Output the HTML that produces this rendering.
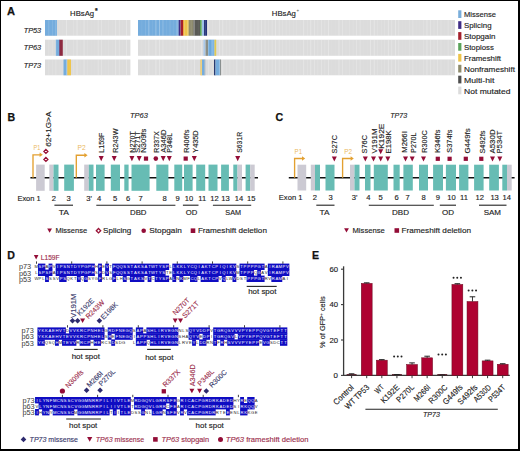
<!DOCTYPE html>
<html><head><meta charset="utf-8"><title>Figure</title>
<style>
html,body{margin:0;padding:0;background:#fff;}
body{width:520px;height:451px;overflow:hidden;position:relative;}
#fr{position:absolute;left:0;top:0;width:520px;height:451px;box-sizing:border-box;border-style:solid;border-color:#000;border-width:1px 2px 2px 1px;}
svg{position:absolute;left:0;top:0;}
svg text{font-family:"Liberation Sans", sans-serif;}
</style></head><body>
<svg width="520" height="451" viewBox="0 0 520 451">
<text stroke="#111" stroke-width="0.25" x="7.1" y="15.2" font-size="10.6" fill="#111" font-weight="bold" textLength="8" lengthAdjust="spacingAndGlyphs">A</text>
<text stroke="#222" stroke-width="0.14" x="70.1" y="15.5" font-size="7.7" fill="#222" textLength="24" lengthAdjust="spacingAndGlyphs">HBsAg</text>
<text stroke="#222" stroke-width="0.25" x="94.9" y="13.2" font-size="6.6" fill="#222" font-weight="bold">*</text>
<text stroke="#222" stroke-width="0.14" x="271.8" y="15.5" font-size="7.7" fill="#222" textLength="24.1" lengthAdjust="spacingAndGlyphs">HBsAg</text>
<text x="296.4" y="12.4" font-size="4.5" fill="#555">+</text>
<text stroke="#222" stroke-width="0.14" x="23.7" y="33" font-size="7.6" fill="#222" font-style="italic" textLength="17.4" lengthAdjust="spacingAndGlyphs">TP53</text>
<text stroke="#222" stroke-width="0.14" x="23.7" y="49.9" font-size="7.6" fill="#222" font-style="italic" textLength="17.4" lengthAdjust="spacingAndGlyphs">TP63</text>
<text stroke="#222" stroke-width="0.14" x="23.7" y="68.2" font-size="7.6" fill="#222" font-style="italic" textLength="17.4" lengthAdjust="spacingAndGlyphs">TP73</text>
<rect x="45" y="20" width="85.4" height="15.7" fill="#dcdcdc" />
<rect x="138" y="20" width="317" height="15.7" fill="#dcdcdc" />
<rect x="45" y="39.7" width="85.4" height="16.1" fill="#dcdcdc" />
<rect x="138" y="39.7" width="317" height="16.1" fill="#dcdcdc" />
<rect x="45" y="59.5" width="85.4" height="15.8" fill="#dcdcdc" />
<rect x="138" y="59.5" width="317" height="15.8" fill="#dcdcdc" />
<rect x="45" y="20" width="12" height="15.7" fill="#74acdd" />
<rect x="55.8" y="39.7" width="3.2" height="16.1" fill="#74acdd" />
<rect x="59" y="39.7" width="0.8" height="16.1" fill="#5a2a6a" />
<rect x="59.8" y="39.7" width="3" height="16.1" fill="#8e2a40" />
<rect x="63.5" y="59.5" width="3.8" height="15.8" fill="#74acdd" />
<rect x="67.3" y="59.5" width="3.7" height="15.8" fill="#eec44a" />
<rect x="138" y="20" width="40.7" height="15.7" fill="#74acdd" />
<rect x="178.7" y="20" width="1.9" height="15.7" fill="#3f2c86" />
<rect x="180.6" y="20" width="2.4" height="15.7" fill="#a3202c" />
<rect x="183" y="20" width="1.2" height="15.7" fill="#f0a030" />
<rect x="184.2" y="20" width="4.5" height="15.7" fill="#eec44a" />
<rect x="188.7" y="20" width="4.8" height="15.7" fill="#8d8a6c" />
<rect x="193.5" y="20" width="6.5" height="15.7" fill="#5a5a55" />
<rect x="200" y="20" width="2" height="15.7" fill="#5aa35a" />
<rect x="202" y="20" width="2" height="15.7" fill="#9ec0e8" />
<rect x="204" y="20" width="3" height="15.7" fill="#24347a" />
<rect x="203.5" y="39.7" width="2" height="16.1" fill="#a8c8ea" />
<rect x="205.5" y="39.7" width="2.5" height="16.1" fill="#8a8f88" />
<rect x="208" y="39.7" width="3" height="16.1" fill="#6aa8dc" />
<rect x="211" y="39.7" width="3.5" height="16.1" fill="#7cb4e4" />
<rect x="214.5" y="39.7" width="1.7" height="16.1" fill="#e0c84a" />
<rect x="200.5" y="59.5" width="1.5" height="15.8" fill="#e8c050" />
<rect x="202" y="59.5" width="2.6" height="15.8" fill="#74acdd" />
<rect x="204.6" y="59.5" width="0.8" height="15.8" fill="#a0a8b0" />
<rect x="214" y="59.5" width="1.5" height="15.8" fill="#283a70" />
<rect x="215.5" y="59.5" width="4.5" height="15.8" fill="#74acdd" />
<rect x="220" y="59.5" width="1" height="15.8" fill="#8a9090" />
<rect x="48.5" y="20" width="0.7" height="15.7" fill="#fff" fill-opacity="0.2"/>
<rect x="48.5" y="39.7" width="0.7" height="16.1" fill="#fff" fill-opacity="0.2"/>
<rect x="48.5" y="59.5" width="0.7" height="15.8" fill="#fff" fill-opacity="0.2"/>
<rect x="52.02" y="20" width="0.7" height="15.7" fill="#fff" fill-opacity="0.15"/>
<rect x="52.02" y="39.7" width="0.7" height="16.1" fill="#fff" fill-opacity="0.15"/>
<rect x="52.02" y="59.5" width="0.7" height="15.8" fill="#fff" fill-opacity="0.15"/>
<rect x="55.54" y="20" width="0.7" height="15.7" fill="#fff" fill-opacity="0.3"/>
<rect x="55.54" y="39.7" width="0.7" height="16.1" fill="#fff" fill-opacity="0.3"/>
<rect x="55.54" y="59.5" width="0.7" height="15.8" fill="#fff" fill-opacity="0.3"/>
<rect x="59.06" y="20" width="0.7" height="15.7" fill="#fff" fill-opacity="0.08"/>
<rect x="59.06" y="39.7" width="0.7" height="16.1" fill="#fff" fill-opacity="0.08"/>
<rect x="59.06" y="59.5" width="0.7" height="15.8" fill="#fff" fill-opacity="0.08"/>
<rect x="62.58" y="20" width="0.7" height="15.7" fill="#fff" fill-opacity="0.08"/>
<rect x="62.58" y="39.7" width="0.7" height="16.1" fill="#fff" fill-opacity="0.08"/>
<rect x="62.58" y="59.5" width="0.7" height="15.8" fill="#fff" fill-opacity="0.08"/>
<rect x="66.1" y="20" width="0.7" height="15.7" fill="#fff" fill-opacity="0.4"/>
<rect x="66.1" y="39.7" width="0.7" height="16.1" fill="#fff" fill-opacity="0.4"/>
<rect x="66.1" y="59.5" width="0.7" height="15.8" fill="#fff" fill-opacity="0.4"/>
<rect x="69.62" y="20" width="0.7" height="15.7" fill="#fff" fill-opacity="0.08"/>
<rect x="69.62" y="39.7" width="0.7" height="16.1" fill="#fff" fill-opacity="0.08"/>
<rect x="69.62" y="59.5" width="0.7" height="15.8" fill="#fff" fill-opacity="0.08"/>
<rect x="73.14" y="20" width="0.7" height="15.7" fill="#fff" fill-opacity="0.2"/>
<rect x="73.14" y="39.7" width="0.7" height="16.1" fill="#fff" fill-opacity="0.2"/>
<rect x="73.14" y="59.5" width="0.7" height="15.8" fill="#fff" fill-opacity="0.2"/>
<rect x="76.66" y="20" width="0.7" height="15.7" fill="#fff" fill-opacity="0.4"/>
<rect x="76.66" y="39.7" width="0.7" height="16.1" fill="#fff" fill-opacity="0.4"/>
<rect x="76.66" y="59.5" width="0.7" height="15.8" fill="#fff" fill-opacity="0.4"/>
<rect x="80.18" y="20" width="0.7" height="15.7" fill="#fff" fill-opacity="0.08"/>
<rect x="80.18" y="39.7" width="0.7" height="16.1" fill="#fff" fill-opacity="0.08"/>
<rect x="80.18" y="59.5" width="0.7" height="15.8" fill="#fff" fill-opacity="0.08"/>
<rect x="83.7" y="20" width="0.7" height="15.7" fill="#fff" fill-opacity="0.4"/>
<rect x="83.7" y="39.7" width="0.7" height="16.1" fill="#fff" fill-opacity="0.4"/>
<rect x="83.7" y="59.5" width="0.7" height="15.8" fill="#fff" fill-opacity="0.4"/>
<rect x="87.22" y="20" width="0.7" height="15.7" fill="#fff" fill-opacity="0.15"/>
<rect x="87.22" y="39.7" width="0.7" height="16.1" fill="#fff" fill-opacity="0.15"/>
<rect x="87.22" y="59.5" width="0.7" height="15.8" fill="#fff" fill-opacity="0.15"/>
<rect x="90.74" y="20" width="0.7" height="15.7" fill="#fff" fill-opacity="0.08"/>
<rect x="90.74" y="39.7" width="0.7" height="16.1" fill="#fff" fill-opacity="0.08"/>
<rect x="90.74" y="59.5" width="0.7" height="15.8" fill="#fff" fill-opacity="0.08"/>
<rect x="94.26" y="20" width="0.7" height="15.7" fill="#fff" fill-opacity="0.08"/>
<rect x="94.26" y="39.7" width="0.7" height="16.1" fill="#fff" fill-opacity="0.08"/>
<rect x="94.26" y="59.5" width="0.7" height="15.8" fill="#fff" fill-opacity="0.08"/>
<rect x="97.78" y="20" width="0.7" height="15.7" fill="#fff" fill-opacity="0.3"/>
<rect x="97.78" y="39.7" width="0.7" height="16.1" fill="#fff" fill-opacity="0.3"/>
<rect x="97.78" y="59.5" width="0.7" height="15.8" fill="#fff" fill-opacity="0.3"/>
<rect x="101.3" y="20" width="0.7" height="15.7" fill="#fff" fill-opacity="0.3"/>
<rect x="101.3" y="39.7" width="0.7" height="16.1" fill="#fff" fill-opacity="0.3"/>
<rect x="101.3" y="59.5" width="0.7" height="15.8" fill="#fff" fill-opacity="0.3"/>
<rect x="104.82" y="20" width="0.7" height="15.7" fill="#fff" fill-opacity="0.08"/>
<rect x="104.82" y="39.7" width="0.7" height="16.1" fill="#fff" fill-opacity="0.08"/>
<rect x="104.82" y="59.5" width="0.7" height="15.8" fill="#fff" fill-opacity="0.08"/>
<rect x="108.34" y="20" width="0.7" height="15.7" fill="#fff" fill-opacity="0.15"/>
<rect x="108.34" y="39.7" width="0.7" height="16.1" fill="#fff" fill-opacity="0.15"/>
<rect x="108.34" y="59.5" width="0.7" height="15.8" fill="#fff" fill-opacity="0.15"/>
<rect x="111.86" y="20" width="0.7" height="15.7" fill="#fff" fill-opacity="0.08"/>
<rect x="111.86" y="39.7" width="0.7" height="16.1" fill="#fff" fill-opacity="0.08"/>
<rect x="111.86" y="59.5" width="0.7" height="15.8" fill="#fff" fill-opacity="0.08"/>
<rect x="115.38" y="20" width="0.7" height="15.7" fill="#fff" fill-opacity="0.4"/>
<rect x="115.38" y="39.7" width="0.7" height="16.1" fill="#fff" fill-opacity="0.4"/>
<rect x="115.38" y="59.5" width="0.7" height="15.8" fill="#fff" fill-opacity="0.4"/>
<rect x="118.9" y="20" width="0.7" height="15.7" fill="#fff" fill-opacity="0.3"/>
<rect x="118.9" y="39.7" width="0.7" height="16.1" fill="#fff" fill-opacity="0.3"/>
<rect x="118.9" y="59.5" width="0.7" height="15.8" fill="#fff" fill-opacity="0.3"/>
<rect x="122.42" y="20" width="0.7" height="15.7" fill="#fff" fill-opacity="0.08"/>
<rect x="122.42" y="39.7" width="0.7" height="16.1" fill="#fff" fill-opacity="0.08"/>
<rect x="122.42" y="59.5" width="0.7" height="15.8" fill="#fff" fill-opacity="0.08"/>
<rect x="125.94" y="20" width="0.7" height="15.7" fill="#fff" fill-opacity="0.4"/>
<rect x="125.94" y="39.7" width="0.7" height="16.1" fill="#fff" fill-opacity="0.4"/>
<rect x="125.94" y="59.5" width="0.7" height="15.8" fill="#fff" fill-opacity="0.4"/>
<rect x="141.5" y="20" width="0.7" height="15.7" fill="#fff" fill-opacity="0.08"/>
<rect x="141.5" y="39.7" width="0.7" height="16.1" fill="#fff" fill-opacity="0.08"/>
<rect x="141.5" y="59.5" width="0.7" height="15.8" fill="#fff" fill-opacity="0.08"/>
<rect x="145.02" y="20" width="0.7" height="15.7" fill="#fff" fill-opacity="0.15"/>
<rect x="145.02" y="39.7" width="0.7" height="16.1" fill="#fff" fill-opacity="0.15"/>
<rect x="145.02" y="59.5" width="0.7" height="15.8" fill="#fff" fill-opacity="0.15"/>
<rect x="148.54" y="20" width="0.7" height="15.7" fill="#fff" fill-opacity="0.4"/>
<rect x="148.54" y="39.7" width="0.7" height="16.1" fill="#fff" fill-opacity="0.4"/>
<rect x="148.54" y="59.5" width="0.7" height="15.8" fill="#fff" fill-opacity="0.4"/>
<rect x="152.06" y="20" width="0.7" height="15.7" fill="#fff" fill-opacity="0.08"/>
<rect x="152.06" y="39.7" width="0.7" height="16.1" fill="#fff" fill-opacity="0.08"/>
<rect x="152.06" y="59.5" width="0.7" height="15.8" fill="#fff" fill-opacity="0.08"/>
<rect x="155.58" y="20" width="0.7" height="15.7" fill="#fff" fill-opacity="0.4"/>
<rect x="155.58" y="39.7" width="0.7" height="16.1" fill="#fff" fill-opacity="0.4"/>
<rect x="155.58" y="59.5" width="0.7" height="15.8" fill="#fff" fill-opacity="0.4"/>
<rect x="159.1" y="20" width="0.7" height="15.7" fill="#fff" fill-opacity="0.4"/>
<rect x="159.1" y="39.7" width="0.7" height="16.1" fill="#fff" fill-opacity="0.4"/>
<rect x="159.1" y="59.5" width="0.7" height="15.8" fill="#fff" fill-opacity="0.4"/>
<rect x="162.62" y="20" width="0.7" height="15.7" fill="#fff" fill-opacity="0.3"/>
<rect x="162.62" y="39.7" width="0.7" height="16.1" fill="#fff" fill-opacity="0.3"/>
<rect x="162.62" y="59.5" width="0.7" height="15.8" fill="#fff" fill-opacity="0.3"/>
<rect x="166.14" y="20" width="0.7" height="15.7" fill="#fff" fill-opacity="0.08"/>
<rect x="166.14" y="39.7" width="0.7" height="16.1" fill="#fff" fill-opacity="0.08"/>
<rect x="166.14" y="59.5" width="0.7" height="15.8" fill="#fff" fill-opacity="0.08"/>
<rect x="169.66" y="20" width="0.7" height="15.7" fill="#fff" fill-opacity="0.15"/>
<rect x="169.66" y="39.7" width="0.7" height="16.1" fill="#fff" fill-opacity="0.15"/>
<rect x="169.66" y="59.5" width="0.7" height="15.8" fill="#fff" fill-opacity="0.15"/>
<rect x="173.18" y="20" width="0.7" height="15.7" fill="#fff" fill-opacity="0.08"/>
<rect x="173.18" y="39.7" width="0.7" height="16.1" fill="#fff" fill-opacity="0.08"/>
<rect x="173.18" y="59.5" width="0.7" height="15.8" fill="#fff" fill-opacity="0.08"/>
<rect x="176.7" y="20" width="0.7" height="15.7" fill="#fff" fill-opacity="0.4"/>
<rect x="176.7" y="39.7" width="0.7" height="16.1" fill="#fff" fill-opacity="0.4"/>
<rect x="176.7" y="59.5" width="0.7" height="15.8" fill="#fff" fill-opacity="0.4"/>
<rect x="180.22" y="20" width="0.7" height="15.7" fill="#fff" fill-opacity="0.15"/>
<rect x="180.22" y="39.7" width="0.7" height="16.1" fill="#fff" fill-opacity="0.15"/>
<rect x="180.22" y="59.5" width="0.7" height="15.8" fill="#fff" fill-opacity="0.15"/>
<rect x="183.74" y="20" width="0.7" height="15.7" fill="#fff" fill-opacity="0.2"/>
<rect x="183.74" y="39.7" width="0.7" height="16.1" fill="#fff" fill-opacity="0.2"/>
<rect x="183.74" y="59.5" width="0.7" height="15.8" fill="#fff" fill-opacity="0.2"/>
<rect x="187.26" y="20" width="0.7" height="15.7" fill="#fff" fill-opacity="0.3"/>
<rect x="187.26" y="39.7" width="0.7" height="16.1" fill="#fff" fill-opacity="0.3"/>
<rect x="187.26" y="59.5" width="0.7" height="15.8" fill="#fff" fill-opacity="0.3"/>
<rect x="190.78" y="20" width="0.7" height="15.7" fill="#fff" fill-opacity="0.15"/>
<rect x="190.78" y="39.7" width="0.7" height="16.1" fill="#fff" fill-opacity="0.15"/>
<rect x="190.78" y="59.5" width="0.7" height="15.8" fill="#fff" fill-opacity="0.15"/>
<rect x="194.3" y="20" width="0.7" height="15.7" fill="#fff" fill-opacity="0.4"/>
<rect x="194.3" y="39.7" width="0.7" height="16.1" fill="#fff" fill-opacity="0.4"/>
<rect x="194.3" y="59.5" width="0.7" height="15.8" fill="#fff" fill-opacity="0.4"/>
<rect x="197.82" y="20" width="0.7" height="15.7" fill="#fff" fill-opacity="0.08"/>
<rect x="197.82" y="39.7" width="0.7" height="16.1" fill="#fff" fill-opacity="0.08"/>
<rect x="197.82" y="59.5" width="0.7" height="15.8" fill="#fff" fill-opacity="0.08"/>
<rect x="201.34" y="20" width="0.7" height="15.7" fill="#fff" fill-opacity="0.4"/>
<rect x="201.34" y="39.7" width="0.7" height="16.1" fill="#fff" fill-opacity="0.4"/>
<rect x="201.34" y="59.5" width="0.7" height="15.8" fill="#fff" fill-opacity="0.4"/>
<rect x="204.86" y="20" width="0.7" height="15.7" fill="#fff" fill-opacity="0.2"/>
<rect x="204.86" y="39.7" width="0.7" height="16.1" fill="#fff" fill-opacity="0.2"/>
<rect x="204.86" y="59.5" width="0.7" height="15.8" fill="#fff" fill-opacity="0.2"/>
<rect x="208.38" y="20" width="0.7" height="15.7" fill="#fff" fill-opacity="0.4"/>
<rect x="208.38" y="39.7" width="0.7" height="16.1" fill="#fff" fill-opacity="0.4"/>
<rect x="208.38" y="59.5" width="0.7" height="15.8" fill="#fff" fill-opacity="0.4"/>
<rect x="211.9" y="20" width="0.7" height="15.7" fill="#fff" fill-opacity="0.15"/>
<rect x="211.9" y="39.7" width="0.7" height="16.1" fill="#fff" fill-opacity="0.15"/>
<rect x="211.9" y="59.5" width="0.7" height="15.8" fill="#fff" fill-opacity="0.15"/>
<rect x="215.42" y="20" width="0.7" height="15.7" fill="#fff" fill-opacity="0.08"/>
<rect x="215.42" y="39.7" width="0.7" height="16.1" fill="#fff" fill-opacity="0.08"/>
<rect x="215.42" y="59.5" width="0.7" height="15.8" fill="#fff" fill-opacity="0.08"/>
<rect x="218.94" y="20" width="0.7" height="15.7" fill="#fff" fill-opacity="0.4"/>
<rect x="218.94" y="39.7" width="0.7" height="16.1" fill="#fff" fill-opacity="0.4"/>
<rect x="218.94" y="59.5" width="0.7" height="15.8" fill="#fff" fill-opacity="0.4"/>
<rect x="222.46" y="20" width="0.7" height="15.7" fill="#fff" fill-opacity="0.4"/>
<rect x="222.46" y="39.7" width="0.7" height="16.1" fill="#fff" fill-opacity="0.4"/>
<rect x="222.46" y="59.5" width="0.7" height="15.8" fill="#fff" fill-opacity="0.4"/>
<rect x="225.98" y="20" width="0.7" height="15.7" fill="#fff" fill-opacity="0.15"/>
<rect x="225.98" y="39.7" width="0.7" height="16.1" fill="#fff" fill-opacity="0.15"/>
<rect x="225.98" y="59.5" width="0.7" height="15.8" fill="#fff" fill-opacity="0.15"/>
<rect x="229.5" y="20" width="0.7" height="15.7" fill="#fff" fill-opacity="0.2"/>
<rect x="229.5" y="39.7" width="0.7" height="16.1" fill="#fff" fill-opacity="0.2"/>
<rect x="229.5" y="59.5" width="0.7" height="15.8" fill="#fff" fill-opacity="0.2"/>
<rect x="233.02" y="20" width="0.7" height="15.7" fill="#fff" fill-opacity="0.08"/>
<rect x="233.02" y="39.7" width="0.7" height="16.1" fill="#fff" fill-opacity="0.08"/>
<rect x="233.02" y="59.5" width="0.7" height="15.8" fill="#fff" fill-opacity="0.08"/>
<rect x="236.54" y="20" width="0.7" height="15.7" fill="#fff" fill-opacity="0.4"/>
<rect x="236.54" y="39.7" width="0.7" height="16.1" fill="#fff" fill-opacity="0.4"/>
<rect x="236.54" y="59.5" width="0.7" height="15.8" fill="#fff" fill-opacity="0.4"/>
<rect x="240.06" y="20" width="0.7" height="15.7" fill="#fff" fill-opacity="0.08"/>
<rect x="240.06" y="39.7" width="0.7" height="16.1" fill="#fff" fill-opacity="0.08"/>
<rect x="240.06" y="59.5" width="0.7" height="15.8" fill="#fff" fill-opacity="0.08"/>
<rect x="243.58" y="20" width="0.7" height="15.7" fill="#fff" fill-opacity="0.4"/>
<rect x="243.58" y="39.7" width="0.7" height="16.1" fill="#fff" fill-opacity="0.4"/>
<rect x="243.58" y="59.5" width="0.7" height="15.8" fill="#fff" fill-opacity="0.4"/>
<rect x="247.1" y="20" width="0.7" height="15.7" fill="#fff" fill-opacity="0.08"/>
<rect x="247.1" y="39.7" width="0.7" height="16.1" fill="#fff" fill-opacity="0.08"/>
<rect x="247.1" y="59.5" width="0.7" height="15.8" fill="#fff" fill-opacity="0.08"/>
<rect x="250.62" y="20" width="0.7" height="15.7" fill="#fff" fill-opacity="0.4"/>
<rect x="250.62" y="39.7" width="0.7" height="16.1" fill="#fff" fill-opacity="0.4"/>
<rect x="250.62" y="59.5" width="0.7" height="15.8" fill="#fff" fill-opacity="0.4"/>
<rect x="254.14" y="20" width="0.7" height="15.7" fill="#fff" fill-opacity="0.15"/>
<rect x="254.14" y="39.7" width="0.7" height="16.1" fill="#fff" fill-opacity="0.15"/>
<rect x="254.14" y="59.5" width="0.7" height="15.8" fill="#fff" fill-opacity="0.15"/>
<rect x="257.66" y="20" width="0.7" height="15.7" fill="#fff" fill-opacity="0.3"/>
<rect x="257.66" y="39.7" width="0.7" height="16.1" fill="#fff" fill-opacity="0.3"/>
<rect x="257.66" y="59.5" width="0.7" height="15.8" fill="#fff" fill-opacity="0.3"/>
<rect x="261.18" y="20" width="0.7" height="15.7" fill="#fff" fill-opacity="0.4"/>
<rect x="261.18" y="39.7" width="0.7" height="16.1" fill="#fff" fill-opacity="0.4"/>
<rect x="261.18" y="59.5" width="0.7" height="15.8" fill="#fff" fill-opacity="0.4"/>
<rect x="264.7" y="20" width="0.7" height="15.7" fill="#fff" fill-opacity="0.3"/>
<rect x="264.7" y="39.7" width="0.7" height="16.1" fill="#fff" fill-opacity="0.3"/>
<rect x="264.7" y="59.5" width="0.7" height="15.8" fill="#fff" fill-opacity="0.3"/>
<rect x="268.22" y="20" width="0.7" height="15.7" fill="#fff" fill-opacity="0.2"/>
<rect x="268.22" y="39.7" width="0.7" height="16.1" fill="#fff" fill-opacity="0.2"/>
<rect x="268.22" y="59.5" width="0.7" height="15.8" fill="#fff" fill-opacity="0.2"/>
<rect x="271.74" y="20" width="0.7" height="15.7" fill="#fff" fill-opacity="0.3"/>
<rect x="271.74" y="39.7" width="0.7" height="16.1" fill="#fff" fill-opacity="0.3"/>
<rect x="271.74" y="59.5" width="0.7" height="15.8" fill="#fff" fill-opacity="0.3"/>
<rect x="275.26" y="20" width="0.7" height="15.7" fill="#fff" fill-opacity="0.4"/>
<rect x="275.26" y="39.7" width="0.7" height="16.1" fill="#fff" fill-opacity="0.4"/>
<rect x="275.26" y="59.5" width="0.7" height="15.8" fill="#fff" fill-opacity="0.4"/>
<rect x="278.78" y="20" width="0.7" height="15.7" fill="#fff" fill-opacity="0.3"/>
<rect x="278.78" y="39.7" width="0.7" height="16.1" fill="#fff" fill-opacity="0.3"/>
<rect x="278.78" y="59.5" width="0.7" height="15.8" fill="#fff" fill-opacity="0.3"/>
<rect x="282.3" y="20" width="0.7" height="15.7" fill="#fff" fill-opacity="0.2"/>
<rect x="282.3" y="39.7" width="0.7" height="16.1" fill="#fff" fill-opacity="0.2"/>
<rect x="282.3" y="59.5" width="0.7" height="15.8" fill="#fff" fill-opacity="0.2"/>
<rect x="285.82" y="20" width="0.7" height="15.7" fill="#fff" fill-opacity="0.2"/>
<rect x="285.82" y="39.7" width="0.7" height="16.1" fill="#fff" fill-opacity="0.2"/>
<rect x="285.82" y="59.5" width="0.7" height="15.8" fill="#fff" fill-opacity="0.2"/>
<rect x="289.34" y="20" width="0.7" height="15.7" fill="#fff" fill-opacity="0.15"/>
<rect x="289.34" y="39.7" width="0.7" height="16.1" fill="#fff" fill-opacity="0.15"/>
<rect x="289.34" y="59.5" width="0.7" height="15.8" fill="#fff" fill-opacity="0.15"/>
<rect x="292.86" y="20" width="0.7" height="15.7" fill="#fff" fill-opacity="0.15"/>
<rect x="292.86" y="39.7" width="0.7" height="16.1" fill="#fff" fill-opacity="0.15"/>
<rect x="292.86" y="59.5" width="0.7" height="15.8" fill="#fff" fill-opacity="0.15"/>
<rect x="296.38" y="20" width="0.7" height="15.7" fill="#fff" fill-opacity="0.15"/>
<rect x="296.38" y="39.7" width="0.7" height="16.1" fill="#fff" fill-opacity="0.15"/>
<rect x="296.38" y="59.5" width="0.7" height="15.8" fill="#fff" fill-opacity="0.15"/>
<rect x="299.9" y="20" width="0.7" height="15.7" fill="#fff" fill-opacity="0.08"/>
<rect x="299.9" y="39.7" width="0.7" height="16.1" fill="#fff" fill-opacity="0.08"/>
<rect x="299.9" y="59.5" width="0.7" height="15.8" fill="#fff" fill-opacity="0.08"/>
<rect x="303.42" y="20" width="0.7" height="15.7" fill="#fff" fill-opacity="0.4"/>
<rect x="303.42" y="39.7" width="0.7" height="16.1" fill="#fff" fill-opacity="0.4"/>
<rect x="303.42" y="59.5" width="0.7" height="15.8" fill="#fff" fill-opacity="0.4"/>
<rect x="306.94" y="20" width="0.7" height="15.7" fill="#fff" fill-opacity="0.2"/>
<rect x="306.94" y="39.7" width="0.7" height="16.1" fill="#fff" fill-opacity="0.2"/>
<rect x="306.94" y="59.5" width="0.7" height="15.8" fill="#fff" fill-opacity="0.2"/>
<rect x="310.46" y="20" width="0.7" height="15.7" fill="#fff" fill-opacity="0.4"/>
<rect x="310.46" y="39.7" width="0.7" height="16.1" fill="#fff" fill-opacity="0.4"/>
<rect x="310.46" y="59.5" width="0.7" height="15.8" fill="#fff" fill-opacity="0.4"/>
<rect x="313.98" y="20" width="0.7" height="15.7" fill="#fff" fill-opacity="0.3"/>
<rect x="313.98" y="39.7" width="0.7" height="16.1" fill="#fff" fill-opacity="0.3"/>
<rect x="313.98" y="59.5" width="0.7" height="15.8" fill="#fff" fill-opacity="0.3"/>
<rect x="317.5" y="20" width="0.7" height="15.7" fill="#fff" fill-opacity="0.2"/>
<rect x="317.5" y="39.7" width="0.7" height="16.1" fill="#fff" fill-opacity="0.2"/>
<rect x="317.5" y="59.5" width="0.7" height="15.8" fill="#fff" fill-opacity="0.2"/>
<rect x="321.02" y="20" width="0.7" height="15.7" fill="#fff" fill-opacity="0.3"/>
<rect x="321.02" y="39.7" width="0.7" height="16.1" fill="#fff" fill-opacity="0.3"/>
<rect x="321.02" y="59.5" width="0.7" height="15.8" fill="#fff" fill-opacity="0.3"/>
<rect x="324.54" y="20" width="0.7" height="15.7" fill="#fff" fill-opacity="0.2"/>
<rect x="324.54" y="39.7" width="0.7" height="16.1" fill="#fff" fill-opacity="0.2"/>
<rect x="324.54" y="59.5" width="0.7" height="15.8" fill="#fff" fill-opacity="0.2"/>
<rect x="328.06" y="20" width="0.7" height="15.7" fill="#fff" fill-opacity="0.4"/>
<rect x="328.06" y="39.7" width="0.7" height="16.1" fill="#fff" fill-opacity="0.4"/>
<rect x="328.06" y="59.5" width="0.7" height="15.8" fill="#fff" fill-opacity="0.4"/>
<rect x="331.58" y="20" width="0.7" height="15.7" fill="#fff" fill-opacity="0.08"/>
<rect x="331.58" y="39.7" width="0.7" height="16.1" fill="#fff" fill-opacity="0.08"/>
<rect x="331.58" y="59.5" width="0.7" height="15.8" fill="#fff" fill-opacity="0.08"/>
<rect x="335.1" y="20" width="0.7" height="15.7" fill="#fff" fill-opacity="0.08"/>
<rect x="335.1" y="39.7" width="0.7" height="16.1" fill="#fff" fill-opacity="0.08"/>
<rect x="335.1" y="59.5" width="0.7" height="15.8" fill="#fff" fill-opacity="0.08"/>
<rect x="338.62" y="20" width="0.7" height="15.7" fill="#fff" fill-opacity="0.4"/>
<rect x="338.62" y="39.7" width="0.7" height="16.1" fill="#fff" fill-opacity="0.4"/>
<rect x="338.62" y="59.5" width="0.7" height="15.8" fill="#fff" fill-opacity="0.4"/>
<rect x="342.14" y="20" width="0.7" height="15.7" fill="#fff" fill-opacity="0.3"/>
<rect x="342.14" y="39.7" width="0.7" height="16.1" fill="#fff" fill-opacity="0.3"/>
<rect x="342.14" y="59.5" width="0.7" height="15.8" fill="#fff" fill-opacity="0.3"/>
<rect x="345.66" y="20" width="0.7" height="15.7" fill="#fff" fill-opacity="0.15"/>
<rect x="345.66" y="39.7" width="0.7" height="16.1" fill="#fff" fill-opacity="0.15"/>
<rect x="345.66" y="59.5" width="0.7" height="15.8" fill="#fff" fill-opacity="0.15"/>
<rect x="349.18" y="20" width="0.7" height="15.7" fill="#fff" fill-opacity="0.2"/>
<rect x="349.18" y="39.7" width="0.7" height="16.1" fill="#fff" fill-opacity="0.2"/>
<rect x="349.18" y="59.5" width="0.7" height="15.8" fill="#fff" fill-opacity="0.2"/>
<rect x="352.7" y="20" width="0.7" height="15.7" fill="#fff" fill-opacity="0.15"/>
<rect x="352.7" y="39.7" width="0.7" height="16.1" fill="#fff" fill-opacity="0.15"/>
<rect x="352.7" y="59.5" width="0.7" height="15.8" fill="#fff" fill-opacity="0.15"/>
<rect x="356.22" y="20" width="0.7" height="15.7" fill="#fff" fill-opacity="0.3"/>
<rect x="356.22" y="39.7" width="0.7" height="16.1" fill="#fff" fill-opacity="0.3"/>
<rect x="356.22" y="59.5" width="0.7" height="15.8" fill="#fff" fill-opacity="0.3"/>
<rect x="359.74" y="20" width="0.7" height="15.7" fill="#fff" fill-opacity="0.3"/>
<rect x="359.74" y="39.7" width="0.7" height="16.1" fill="#fff" fill-opacity="0.3"/>
<rect x="359.74" y="59.5" width="0.7" height="15.8" fill="#fff" fill-opacity="0.3"/>
<rect x="363.26" y="20" width="0.7" height="15.7" fill="#fff" fill-opacity="0.08"/>
<rect x="363.26" y="39.7" width="0.7" height="16.1" fill="#fff" fill-opacity="0.08"/>
<rect x="363.26" y="59.5" width="0.7" height="15.8" fill="#fff" fill-opacity="0.08"/>
<rect x="366.78" y="20" width="0.7" height="15.7" fill="#fff" fill-opacity="0.08"/>
<rect x="366.78" y="39.7" width="0.7" height="16.1" fill="#fff" fill-opacity="0.08"/>
<rect x="366.78" y="59.5" width="0.7" height="15.8" fill="#fff" fill-opacity="0.08"/>
<rect x="370.3" y="20" width="0.7" height="15.7" fill="#fff" fill-opacity="0.4"/>
<rect x="370.3" y="39.7" width="0.7" height="16.1" fill="#fff" fill-opacity="0.4"/>
<rect x="370.3" y="59.5" width="0.7" height="15.8" fill="#fff" fill-opacity="0.4"/>
<rect x="373.82" y="20" width="0.7" height="15.7" fill="#fff" fill-opacity="0.4"/>
<rect x="373.82" y="39.7" width="0.7" height="16.1" fill="#fff" fill-opacity="0.4"/>
<rect x="373.82" y="59.5" width="0.7" height="15.8" fill="#fff" fill-opacity="0.4"/>
<rect x="377.34" y="20" width="0.7" height="15.7" fill="#fff" fill-opacity="0.2"/>
<rect x="377.34" y="39.7" width="0.7" height="16.1" fill="#fff" fill-opacity="0.2"/>
<rect x="377.34" y="59.5" width="0.7" height="15.8" fill="#fff" fill-opacity="0.2"/>
<rect x="380.86" y="20" width="0.7" height="15.7" fill="#fff" fill-opacity="0.2"/>
<rect x="380.86" y="39.7" width="0.7" height="16.1" fill="#fff" fill-opacity="0.2"/>
<rect x="380.86" y="59.5" width="0.7" height="15.8" fill="#fff" fill-opacity="0.2"/>
<rect x="384.38" y="20" width="0.7" height="15.7" fill="#fff" fill-opacity="0.2"/>
<rect x="384.38" y="39.7" width="0.7" height="16.1" fill="#fff" fill-opacity="0.2"/>
<rect x="384.38" y="59.5" width="0.7" height="15.8" fill="#fff" fill-opacity="0.2"/>
<rect x="387.9" y="20" width="0.7" height="15.7" fill="#fff" fill-opacity="0.4"/>
<rect x="387.9" y="39.7" width="0.7" height="16.1" fill="#fff" fill-opacity="0.4"/>
<rect x="387.9" y="59.5" width="0.7" height="15.8" fill="#fff" fill-opacity="0.4"/>
<rect x="391.42" y="20" width="0.7" height="15.7" fill="#fff" fill-opacity="0.3"/>
<rect x="391.42" y="39.7" width="0.7" height="16.1" fill="#fff" fill-opacity="0.3"/>
<rect x="391.42" y="59.5" width="0.7" height="15.8" fill="#fff" fill-opacity="0.3"/>
<rect x="394.94" y="20" width="0.7" height="15.7" fill="#fff" fill-opacity="0.4"/>
<rect x="394.94" y="39.7" width="0.7" height="16.1" fill="#fff" fill-opacity="0.4"/>
<rect x="394.94" y="59.5" width="0.7" height="15.8" fill="#fff" fill-opacity="0.4"/>
<rect x="398.46" y="20" width="0.7" height="15.7" fill="#fff" fill-opacity="0.3"/>
<rect x="398.46" y="39.7" width="0.7" height="16.1" fill="#fff" fill-opacity="0.3"/>
<rect x="398.46" y="59.5" width="0.7" height="15.8" fill="#fff" fill-opacity="0.3"/>
<rect x="401.98" y="20" width="0.7" height="15.7" fill="#fff" fill-opacity="0.08"/>
<rect x="401.98" y="39.7" width="0.7" height="16.1" fill="#fff" fill-opacity="0.08"/>
<rect x="401.98" y="59.5" width="0.7" height="15.8" fill="#fff" fill-opacity="0.08"/>
<rect x="405.5" y="20" width="0.7" height="15.7" fill="#fff" fill-opacity="0.08"/>
<rect x="405.5" y="39.7" width="0.7" height="16.1" fill="#fff" fill-opacity="0.08"/>
<rect x="405.5" y="59.5" width="0.7" height="15.8" fill="#fff" fill-opacity="0.08"/>
<rect x="409.02" y="20" width="0.7" height="15.7" fill="#fff" fill-opacity="0.2"/>
<rect x="409.02" y="39.7" width="0.7" height="16.1" fill="#fff" fill-opacity="0.2"/>
<rect x="409.02" y="59.5" width="0.7" height="15.8" fill="#fff" fill-opacity="0.2"/>
<rect x="412.54" y="20" width="0.7" height="15.7" fill="#fff" fill-opacity="0.3"/>
<rect x="412.54" y="39.7" width="0.7" height="16.1" fill="#fff" fill-opacity="0.3"/>
<rect x="412.54" y="59.5" width="0.7" height="15.8" fill="#fff" fill-opacity="0.3"/>
<rect x="416.06" y="20" width="0.7" height="15.7" fill="#fff" fill-opacity="0.08"/>
<rect x="416.06" y="39.7" width="0.7" height="16.1" fill="#fff" fill-opacity="0.08"/>
<rect x="416.06" y="59.5" width="0.7" height="15.8" fill="#fff" fill-opacity="0.08"/>
<rect x="419.58" y="20" width="0.7" height="15.7" fill="#fff" fill-opacity="0.08"/>
<rect x="419.58" y="39.7" width="0.7" height="16.1" fill="#fff" fill-opacity="0.08"/>
<rect x="419.58" y="59.5" width="0.7" height="15.8" fill="#fff" fill-opacity="0.08"/>
<rect x="423.1" y="20" width="0.7" height="15.7" fill="#fff" fill-opacity="0.2"/>
<rect x="423.1" y="39.7" width="0.7" height="16.1" fill="#fff" fill-opacity="0.2"/>
<rect x="423.1" y="59.5" width="0.7" height="15.8" fill="#fff" fill-opacity="0.2"/>
<rect x="426.62" y="20" width="0.7" height="15.7" fill="#fff" fill-opacity="0.4"/>
<rect x="426.62" y="39.7" width="0.7" height="16.1" fill="#fff" fill-opacity="0.4"/>
<rect x="426.62" y="59.5" width="0.7" height="15.8" fill="#fff" fill-opacity="0.4"/>
<rect x="430.14" y="20" width="0.7" height="15.7" fill="#fff" fill-opacity="0.3"/>
<rect x="430.14" y="39.7" width="0.7" height="16.1" fill="#fff" fill-opacity="0.3"/>
<rect x="430.14" y="59.5" width="0.7" height="15.8" fill="#fff" fill-opacity="0.3"/>
<rect x="433.66" y="20" width="0.7" height="15.7" fill="#fff" fill-opacity="0.2"/>
<rect x="433.66" y="39.7" width="0.7" height="16.1" fill="#fff" fill-opacity="0.2"/>
<rect x="433.66" y="59.5" width="0.7" height="15.8" fill="#fff" fill-opacity="0.2"/>
<rect x="437.18" y="20" width="0.7" height="15.7" fill="#fff" fill-opacity="0.3"/>
<rect x="437.18" y="39.7" width="0.7" height="16.1" fill="#fff" fill-opacity="0.3"/>
<rect x="437.18" y="59.5" width="0.7" height="15.8" fill="#fff" fill-opacity="0.3"/>
<rect x="440.7" y="20" width="0.7" height="15.7" fill="#fff" fill-opacity="0.2"/>
<rect x="440.7" y="39.7" width="0.7" height="16.1" fill="#fff" fill-opacity="0.2"/>
<rect x="440.7" y="59.5" width="0.7" height="15.8" fill="#fff" fill-opacity="0.2"/>
<rect x="444.22" y="20" width="0.7" height="15.7" fill="#fff" fill-opacity="0.08"/>
<rect x="444.22" y="39.7" width="0.7" height="16.1" fill="#fff" fill-opacity="0.08"/>
<rect x="444.22" y="59.5" width="0.7" height="15.8" fill="#fff" fill-opacity="0.08"/>
<rect x="447.74" y="20" width="0.7" height="15.7" fill="#fff" fill-opacity="0.3"/>
<rect x="447.74" y="39.7" width="0.7" height="16.1" fill="#fff" fill-opacity="0.3"/>
<rect x="447.74" y="59.5" width="0.7" height="15.8" fill="#fff" fill-opacity="0.3"/>
<rect x="451.26" y="20" width="0.7" height="15.7" fill="#fff" fill-opacity="0.2"/>
<rect x="451.26" y="39.7" width="0.7" height="16.1" fill="#fff" fill-opacity="0.2"/>
<rect x="451.26" y="59.5" width="0.7" height="15.8" fill="#fff" fill-opacity="0.2"/>
<rect x="458.2" y="10.3" width="3.2" height="7.7" fill="#7aaedb" />
<text stroke="#222" stroke-width="0.14" x="464" y="16.6" font-size="7.8" fill="#222" textLength="31.9" lengthAdjust="spacingAndGlyphs">Missense</text>
<rect x="458.2" y="21.2" width="3.2" height="7.7" fill="#3f2c86" />
<text stroke="#222" stroke-width="0.14" x="464" y="27.6" font-size="7.8" fill="#222" textLength="27.5" lengthAdjust="spacingAndGlyphs">Splicing</text>
<rect x="458.2" y="32.1" width="3.2" height="7.7" fill="#a3202c" />
<text stroke="#222" stroke-width="0.14" x="464" y="38.6" font-size="7.8" fill="#222" textLength="31.4" lengthAdjust="spacingAndGlyphs">Stopgain</text>
<rect x="458.2" y="43" width="3.2" height="7.7" fill="#5aa35a" />
<text stroke="#222" stroke-width="0.14" x="464" y="49.6" font-size="7.8" fill="#222" textLength="29.9" lengthAdjust="spacingAndGlyphs">Stoploss</text>
<rect x="458.2" y="53.9" width="3.2" height="7.7" fill="#eec44a" />
<text stroke="#222" stroke-width="0.14" x="464" y="60.6" font-size="7.8" fill="#222" textLength="37" lengthAdjust="spacingAndGlyphs">Frameshift</text>
<rect x="458.2" y="64.8" width="3.2" height="7.7" fill="#8d8a6c" />
<text stroke="#222" stroke-width="0.14" x="464" y="71.6" font-size="7.8" fill="#222" textLength="51" lengthAdjust="spacingAndGlyphs">Nonframeshift</text>
<rect x="458.2" y="75.7" width="3.2" height="7.7" fill="#4d4d4d" />
<text stroke="#222" stroke-width="0.14" x="464" y="82.6" font-size="7.8" fill="#222" textLength="30.3" lengthAdjust="spacingAndGlyphs">Multi-hit</text>
<rect x="458.2" y="86.6" width="3.2" height="7.7" fill="#dcdcdc" />
<text stroke="#222" stroke-width="0.14" x="464" y="93.6" font-size="7.8" fill="#222" textLength="46.5" lengthAdjust="spacingAndGlyphs">Not mutated</text>
<text stroke="#111" stroke-width="0.25" x="7.4" y="120.6" font-size="10.6" fill="#111" font-weight="bold">B</text>
<text stroke="#222" stroke-width="0.14" x="130" y="117.7" font-size="7.7" fill="#222" font-style="italic" textLength="17.8" lengthAdjust="spacingAndGlyphs">TP63</text>
<line x1="30.4" y1="177.7" x2="258" y2="177.7" stroke="#111" stroke-width="1.5"/>
<rect x="36.1" y="164.6" width="8.6" height="26.2" fill="#cccad3" />
<rect x="49.3" y="164.6" width="4.2" height="26.2" fill="#cccad3" />
<rect x="53.5" y="164.6" width="5" height="26.2" fill="#67bcb4" />
<rect x="64.2" y="164.6" width="9.7" height="26.2" fill="#67bcb4" />
<rect x="84.2" y="164.6" width="4.6" height="26.2" fill="#cccad3" />
<rect x="88.8" y="164.6" width="4.7" height="26.2" fill="#67bcb4" />
<rect x="96" y="164.6" width="8.6" height="26.2" fill="#67bcb4" />
<rect x="110.8" y="164.6" width="9.2" height="26.2" fill="#67bcb4" />
<rect x="124.3" y="164.6" width="4.3" height="26.2" fill="#67bcb4" />
<rect x="131.5" y="164.6" width="18.1" height="26.2" fill="#67bcb4" />
<rect x="156.3" y="164.6" width="12.1" height="26.2" fill="#67bcb4" />
<rect x="174.3" y="164.6" width="7.9" height="26.2" fill="#67bcb4" />
<rect x="184" y="164.6" width="8.6" height="26.2" fill="#67bcb4" />
<rect x="196.2" y="164.6" width="9" height="26.2" fill="#67bcb4" />
<rect x="208.5" y="164.6" width="9" height="26.2" fill="#67bcb4" />
<rect x="221.1" y="164.6" width="7.8" height="26.2" fill="#67bcb4" />
<rect x="233.3" y="164.6" width="4.2" height="26.2" fill="#67bcb4" />
<rect x="237.5" y="164.6" width="4.5" height="26.2" fill="#cccad3" />
<rect x="245.6" y="164.6" width="4.6" height="26.2" fill="#67bcb4" />
<rect x="250.2" y="164.6" width="4.5" height="26.2" fill="#cccad3" />
<path d="M33 177.7V154.8H40.2" fill="none" stroke="#e3a030" stroke-width="1.35"/>
<path d="M39.6 152.6L42.8 154.8L39.6 157Z" fill="#e3a030"/>
<path d="M76.3 177.7V155.2H85" fill="none" stroke="#e3a030" stroke-width="1.35"/>
<path d="M84.4 153L87.6 155.2L84.4 157.4Z" fill="#e3a030"/>
<text x="33.6" y="149.8" font-size="7.2" fill="#eab860" textLength="6.8" lengthAdjust="spacingAndGlyphs">P1</text>
<text x="77.6" y="150" font-size="7.2" fill="#eab860" textLength="8.2" lengthAdjust="spacingAndGlyphs">P2</text>
<path d="M45.9 149.4L47.9 151.4L45.9 153.4L43.9 151.4Z" fill="#fff" stroke="#981035" stroke-width="1.3"/>
<path d="M45.9 157.4L47.9 159.4L45.9 161.4L43.9 159.4Z" fill="#fff" stroke="#981035" stroke-width="1.3"/>
<text stroke="#222" stroke-width="0.14" transform="translate(51.2 146.8) rotate(-90)" x="0" y="0" font-size="7.6" fill="#222" textLength="35.2" lengthAdjust="spacingAndGlyphs">62+1G&gt;A</text>
<text stroke="#222" stroke-width="0.14" transform="translate(103.5 152.7) rotate(-90)" x="0" y="0" font-size="7.5" fill="#222" textLength="20" lengthAdjust="spacingAndGlyphs">L159F</text>
<path d="M98.7 156.05L103.7 156.05L101.2 161.15Z" fill="#930d37"/>
<text stroke="#222" stroke-width="0.14" transform="translate(117.8 152.7) rotate(-90)" x="0" y="0" font-size="7.5" fill="#222" textLength="24.2" lengthAdjust="spacingAndGlyphs">R243W</text>
<path d="M111.7 156.05L116.7 156.05L114.2 161.15Z" fill="#930d37"/>
<text stroke="#222" stroke-width="0.14" transform="translate(135.3 152.7) rotate(-90)" x="0" y="0" font-size="7.5" fill="#222" textLength="21.5" lengthAdjust="spacingAndGlyphs">N270T</text>
<path d="M129.4 156.05L134.4 156.05L131.9 161.15Z" fill="#930d37"/>
<text stroke="#222" stroke-width="0.14" transform="translate(140.4 152.7) rotate(-90)" x="0" y="0" font-size="7.5" fill="#222" textLength="21.5" lengthAdjust="spacingAndGlyphs">S271T</text>
<path d="M136.7 156.05L141.7 156.05L139.2 161.15Z" fill="#930d37"/>
<text stroke="#222" stroke-width="0.14" transform="translate(145.8 152.7) rotate(-90)" x="0" y="0" font-size="7.5" fill="#222" textLength="23.9" lengthAdjust="spacingAndGlyphs">N309fs</text>
<rect x="143.9" y="156.5" width="4.2" height="4.2" fill="#930d37" />
<text stroke="#222" stroke-width="0.14" transform="translate(159.3 152.7) rotate(-90)" x="0" y="0" font-size="7.5" fill="#222" textLength="21.5" lengthAdjust="spacingAndGlyphs">R337X</text>
<circle cx="155.8" cy="158.6" r="2.3" fill="#930d37"/>
<text stroke="#222" stroke-width="0.14" transform="translate(165.5 152.7) rotate(-90)" x="0" y="0" font-size="7.5" fill="#222" textLength="23.1" lengthAdjust="spacingAndGlyphs">A346D</text>
<path d="M160.7 156.05L165.7 156.05L163.2 161.15Z" fill="#930d37"/>
<text stroke="#222" stroke-width="0.14" transform="translate(171.9 152.7) rotate(-90)" x="0" y="0" font-size="7.5" fill="#222" textLength="19.6" lengthAdjust="spacingAndGlyphs">P348L</text>
<path d="M166.8 156.05L171.8 156.05L169.3 161.15Z" fill="#930d37"/>
<text stroke="#222" stroke-width="0.14" transform="translate(189.2 152.7) rotate(-90)" x="0" y="0" font-size="7.5" fill="#222" textLength="23.1" lengthAdjust="spacingAndGlyphs">R406fs</text>
<rect x="183.6" y="156.5" width="4.2" height="4.2" fill="#930d37" />
<text stroke="#222" stroke-width="0.14" transform="translate(198 152.7) rotate(-90)" x="0" y="0" font-size="7.5" fill="#222" textLength="22.3" lengthAdjust="spacingAndGlyphs">Y435D</text>
<path d="M191.8 156.05L196.8 156.05L194.3 161.15Z" fill="#930d37"/>
<text stroke="#222" stroke-width="0.14" transform="translate(241.5 152.7) rotate(-90)" x="0" y="0" font-size="7.5" fill="#222" textLength="20.8" lengthAdjust="spacingAndGlyphs">S631R</text>
<path d="M235.2 156.05L240.2 156.05L237.7 161.15Z" fill="#930d37"/>
<text stroke="#222" stroke-width="0.14" x="17.4" y="200.5" font-size="7.6" fill="#222" textLength="23.3" lengthAdjust="spacingAndGlyphs">Exon 1</text>
<text stroke="#222" stroke-width="0.14" x="51.7" y="200.5" font-size="7.6" fill="#222">2</text>
<text stroke="#222" stroke-width="0.14" x="66.6" y="200.5" font-size="7.6" fill="#222">3</text>
<text stroke="#222" stroke-width="0.14" x="86.3" y="200.5" font-size="7.6" fill="#222">3'</text>
<text stroke="#222" stroke-width="0.14" x="97" y="200.5" font-size="7.6" fill="#222">4</text>
<text stroke="#222" stroke-width="0.14" x="112.9" y="200.5" font-size="7.6" fill="#222">5</text>
<text stroke="#222" stroke-width="0.14" x="126" y="200.5" font-size="7.6" fill="#222">6</text>
<text stroke="#222" stroke-width="0.14" x="138.4" y="200.5" font-size="7.6" fill="#222">7</text>
<text stroke="#222" stroke-width="0.14" x="162.4" y="200.5" font-size="7.6" fill="#222">8</text>
<text stroke="#222" stroke-width="0.14" x="175.5" y="200.5" font-size="7.6" fill="#222">9</text>
<text stroke="#222" stroke-width="0.14" x="184.8" y="200.5" font-size="7.6" fill="#222">10</text>
<text stroke="#222" stroke-width="0.14" x="198.3" y="200.5" font-size="7.6" fill="#222">11</text>
<text stroke="#222" stroke-width="0.14" x="210.2" y="200.5" font-size="7.6" fill="#222">12</text>
<text stroke="#222" stroke-width="0.14" x="221.2" y="200.5" font-size="7.6" fill="#222">13</text>
<text stroke="#222" stroke-width="0.14" x="234.8" y="200.5" font-size="7.6" fill="#222">14</text>
<text stroke="#222" stroke-width="0.14" x="247" y="200.5" font-size="7.6" fill="#222">15</text>
<line x1="54.4" y1="205.2" x2="73" y2="205.2" stroke="#222" stroke-width="1.1"/>
<text stroke="#222" stroke-width="0.14" x="58.7" y="214.6" font-size="7.6" fill="#222" textLength="10.3" lengthAdjust="spacingAndGlyphs">TA</text>
<line x1="96.3" y1="205.2" x2="175.4" y2="205.2" stroke="#222" stroke-width="1.1"/>
<text stroke="#222" stroke-width="0.14" x="130" y="214.6" font-size="7.6" fill="#222" textLength="16.5" lengthAdjust="spacingAndGlyphs">DBD</text>
<line x1="182.9" y1="205.2" x2="198.5" y2="205.2" stroke="#222" stroke-width="1.1"/>
<text stroke="#222" stroke-width="0.14" x="185.8" y="214.6" font-size="7.6" fill="#222" textLength="11.5" lengthAdjust="spacingAndGlyphs">OD</text>
<line x1="212.9" y1="205.2" x2="251.2" y2="205.2" stroke="#222" stroke-width="1.1"/>
<text stroke="#222" stroke-width="0.14" x="225.3" y="214.6" font-size="7.6" fill="#222" textLength="15.7" lengthAdjust="spacingAndGlyphs">SAM</text>
<path d="M47.2 228.5L52 228.5L49.6 232.7Z" fill="#930d37"/>
<text stroke="#222" stroke-width="0.14" x="55.4" y="233" font-size="7.6" fill="#222" textLength="31.7" lengthAdjust="spacingAndGlyphs">Missense</text>
<path d="M98.5 228.5L100.7 230.7L98.5 232.9L96.3 230.7Z" fill="#fff" stroke="#981035" stroke-width="1.3"/>
<text stroke="#222" stroke-width="0.14" x="103.1" y="233" font-size="7.6" fill="#222" textLength="28.2" lengthAdjust="spacingAndGlyphs">Splicing</text>
<circle cx="143.7" cy="230.7" r="2.3" fill="#930d37"/>
<text stroke="#222" stroke-width="0.14" x="149.3" y="233" font-size="7.6" fill="#222" textLength="32.5" lengthAdjust="spacingAndGlyphs">Stopgain</text>
<rect x="190.7" y="228.4" width="4.6" height="4.6" fill="#930d37" />
<text stroke="#222" stroke-width="0.14" x="197.9" y="233" font-size="7.6" fill="#222" textLength="69" lengthAdjust="spacingAndGlyphs">Frameshift deletion</text>
<text stroke="#111" stroke-width="0.25" x="275.4" y="121.2" font-size="10.6" fill="#111" font-weight="bold">C</text>
<text stroke="#222" stroke-width="0.14" x="390.2" y="118.3" font-size="7.7" fill="#222" font-style="italic" textLength="16.9" lengthAdjust="spacingAndGlyphs">TP73</text>
<line x1="288.8" y1="177.8" x2="514.6" y2="177.8" stroke="#111" stroke-width="1.5"/>
<rect x="297.5" y="164.7" width="8.7" height="25.8" fill="#cccad3" />
<rect x="310.8" y="164.7" width="4.2" height="25.8" fill="#cccad3" />
<rect x="315" y="164.7" width="5" height="25.8" fill="#67bcb4" />
<rect x="325.5" y="164.7" width="9" height="25.8" fill="#67bcb4" />
<rect x="350" y="164.7" width="4.5" height="25.8" fill="#cccad3" />
<rect x="354.5" y="164.7" width="5" height="25.8" fill="#67bcb4" />
<rect x="365" y="164.7" width="5.5" height="25.8" fill="#67bcb4" />
<rect x="373.8" y="164.7" width="14" height="25.8" fill="#67bcb4" />
<rect x="393.5" y="164.7" width="6.2" height="25.8" fill="#67bcb4" />
<rect x="403.4" y="164.7" width="9.4" height="25.8" fill="#67bcb4" />
<rect x="419" y="164.7" width="9" height="25.8" fill="#67bcb4" />
<rect x="433.1" y="164.7" width="9.9" height="25.8" fill="#67bcb4" />
<rect x="445.9" y="164.7" width="10.1" height="25.8" fill="#67bcb4" />
<rect x="459.1" y="164.7" width="9.3" height="25.8" fill="#67bcb4" />
<rect x="474.1" y="164.7" width="9.5" height="25.8" fill="#67bcb4" />
<rect x="489.2" y="164.7" width="9.7" height="25.8" fill="#67bcb4" />
<rect x="502.3" y="164.7" width="4.7" height="25.8" fill="#67bcb4" />
<rect x="507" y="164.7" width="4.7" height="25.8" fill="#cccad3" />
<path d="M294.6 177.8V158.5H302.6" fill="none" stroke="#e3a030" stroke-width="1.35"/>
<path d="M302 156.3L305.2 158.5L302 160.7Z" fill="#e3a030"/>
<path d="M342.6 177.8V158.5H351.2" fill="none" stroke="#e3a030" stroke-width="1.35"/>
<path d="M350.6 156.3L353.8 158.5L350.6 160.7Z" fill="#e3a030"/>
<text x="294.6" y="153.7" font-size="7.2" fill="#eab860" textLength="7.4" lengthAdjust="spacingAndGlyphs">P1</text>
<text x="344.2" y="153.5" font-size="7.2" fill="#eab860" textLength="7.8" lengthAdjust="spacingAndGlyphs">P2</text>
<text stroke="#222" stroke-width="0.14" transform="translate(337.3 153.5) rotate(-90)" x="0" y="0" font-size="7.5" fill="#222" textLength="18.5" lengthAdjust="spacingAndGlyphs">S27C</text>
<path d="M331.8 156.45L336.8 156.45L334.3 161.55Z" fill="#930d37"/>
<text stroke="#222" stroke-width="0.14" transform="translate(367.3 153.5) rotate(-90)" x="0" y="0" font-size="7.5" fill="#222" textLength="18.5" lengthAdjust="spacingAndGlyphs">S76C</text>
<path d="M362.8 156.45L367.8 156.45L365.3 161.55Z" fill="#930d37"/>
<text stroke="#222" stroke-width="0.14" transform="translate(376.5 153.5) rotate(-90)" x="0" y="0" font-size="7.5" fill="#222" textLength="25" lengthAdjust="spacingAndGlyphs">V191M</text>
<path d="M371 156.45L376 156.45L373.5 161.55Z" fill="#930d37"/>
<text stroke="#222" stroke-width="0.14" transform="translate(384.2 148.8) rotate(-90)" x="0" y="0" font-size="7.5" fill="#222" textLength="25.3" lengthAdjust="spacingAndGlyphs">K192E</text>
<path d="M378.2 156.45L383.2 156.45L380.7 161.55Z" fill="#930d37"/>
<text stroke="#222" stroke-width="0.14" transform="translate(391.2 153.5) rotate(-90)" x="0" y="0" font-size="7.5" fill="#222" textLength="23.1" lengthAdjust="spacingAndGlyphs">E198K</text>
<path d="M385.3 156.45L390.3 156.45L387.8 161.55Z" fill="#930d37"/>
<text stroke="#222" stroke-width="0.14" transform="translate(407.3 152.7) rotate(-90)" x="0" y="0" font-size="7.5" fill="#222" textLength="21.5" lengthAdjust="spacingAndGlyphs">M266I</text>
<path d="M403 156.45L408 156.45L405.5 161.55Z" fill="#930d37"/>
<text stroke="#222" stroke-width="0.14" transform="translate(415.8 152.7) rotate(-90)" x="0" y="0" font-size="7.5" fill="#222" textLength="20" lengthAdjust="spacingAndGlyphs">P270L</text>
<path d="M409.7 156.45L414.7 156.45L412.2 161.55Z" fill="#930d37"/>
<text stroke="#222" stroke-width="0.14" transform="translate(426.5 152.7) rotate(-90)" x="0" y="0" font-size="7.5" fill="#222" textLength="22.3" lengthAdjust="spacingAndGlyphs">R300C</text>
<path d="M421 156.45L426 156.45L423.5 161.55Z" fill="#930d37"/>
<text stroke="#222" stroke-width="0.14" transform="translate(440.4 152.7) rotate(-90)" x="0" y="0" font-size="7.5" fill="#222" textLength="23.1" lengthAdjust="spacingAndGlyphs">K346fs</text>
<rect x="435.7" y="156.7" width="4.2" height="4.2" fill="#930d37" />
<text stroke="#222" stroke-width="0.14" transform="translate(451.9 152.7) rotate(-90)" x="0" y="0" font-size="7.5" fill="#222" textLength="23.1" lengthAdjust="spacingAndGlyphs">S374fs</text>
<rect x="447.5" y="156.7" width="4.2" height="4.2" fill="#930d37" />
<text stroke="#222" stroke-width="0.14" transform="translate(469.7 153.6) rotate(-90)" x="0" y="0" font-size="7.5" fill="#222" textLength="25.3" lengthAdjust="spacingAndGlyphs">G449fs</text>
<rect x="463.7" y="156.7" width="4.2" height="4.2" fill="#930d37" />
<text stroke="#222" stroke-width="0.14" transform="translate(484.8 153.6) rotate(-90)" x="0" y="0" font-size="7.5" fill="#222" textLength="23" lengthAdjust="spacingAndGlyphs">S492fs</text>
<rect x="479.2" y="156.7" width="4.2" height="4.2" fill="#930d37" />
<text stroke="#222" stroke-width="0.14" transform="translate(494.6 153.6) rotate(-90)" x="0" y="0" font-size="7.5" fill="#222" textLength="24.2" lengthAdjust="spacingAndGlyphs">A530D</text>
<path d="M490 156.45L495 156.45L492.5 161.55Z" fill="#930d37"/>
<text stroke="#222" stroke-width="0.14" transform="translate(502.1 153.6) rotate(-90)" x="0" y="0" font-size="7.5" fill="#222" textLength="23" lengthAdjust="spacingAndGlyphs">P534T</text>
<path d="M497.3 156.45L502.3 156.45L499.8 161.55Z" fill="#930d37"/>
<path d="M378.2 149.15L383.2 149.15L380.7 154.25Z" fill="#930d37"/>
<text stroke="#222" stroke-width="0.14" x="278.8" y="200.3" font-size="7.6" fill="#222" textLength="23.7" lengthAdjust="spacingAndGlyphs">Exon 1</text>
<text stroke="#222" stroke-width="0.14" x="312.8" y="200.3" font-size="7.6" fill="#222">2</text>
<text stroke="#222" stroke-width="0.14" x="328.6" y="200.3" font-size="7.6" fill="#222">3</text>
<text stroke="#222" stroke-width="0.14" x="351.8" y="200.3" font-size="7.6" fill="#222">3'</text>
<text stroke="#222" stroke-width="0.14" x="366.2" y="200.3" font-size="7.6" fill="#222">4</text>
<text stroke="#222" stroke-width="0.14" x="378.6" y="200.3" font-size="7.6" fill="#222">5</text>
<text stroke="#222" stroke-width="0.14" x="394.6" y="200.3" font-size="7.6" fill="#222">6</text>
<text stroke="#222" stroke-width="0.14" x="405.4" y="200.3" font-size="7.6" fill="#222">7</text>
<text stroke="#222" stroke-width="0.14" x="421.5" y="200.3" font-size="7.6" fill="#222">8</text>
<text stroke="#222" stroke-width="0.14" x="435.8" y="200.3" font-size="7.6" fill="#222">9</text>
<text stroke="#222" stroke-width="0.14" x="447.3" y="200.3" font-size="7.6" fill="#222">10</text>
<text stroke="#222" stroke-width="0.14" x="460" y="200.3" font-size="7.6" fill="#222">11</text>
<text stroke="#222" stroke-width="0.14" x="475.6" y="200.3" font-size="7.6" fill="#222">12</text>
<text stroke="#222" stroke-width="0.14" x="490.4" y="200.3" font-size="7.6" fill="#222">13</text>
<text stroke="#222" stroke-width="0.14" x="502.5" y="200.3" font-size="7.6" fill="#222">14</text>
<line x1="316.3" y1="205.2" x2="334.5" y2="205.2" stroke="#222" stroke-width="1.1"/>
<text stroke="#222" stroke-width="0.14" x="319.5" y="214.6" font-size="7.6" fill="#222" textLength="10" lengthAdjust="spacingAndGlyphs">TA</text>
<line x1="368.8" y1="205.2" x2="433.8" y2="205.2" stroke="#222" stroke-width="1.1"/>
<text stroke="#222" stroke-width="0.14" x="392" y="214.6" font-size="7.6" fill="#222" textLength="17" lengthAdjust="spacingAndGlyphs">DBD</text>
<line x1="439.8" y1="205.2" x2="456" y2="205.2" stroke="#222" stroke-width="1.1"/>
<text stroke="#222" stroke-width="0.14" x="442" y="214.6" font-size="7.6" fill="#222" textLength="12" lengthAdjust="spacingAndGlyphs">OD</text>
<line x1="479" y1="205.2" x2="506.5" y2="205.2" stroke="#222" stroke-width="1.1"/>
<text stroke="#222" stroke-width="0.14" x="483.7" y="214.6" font-size="7.6" fill="#222" textLength="17.3" lengthAdjust="spacingAndGlyphs">SAM</text>
<path d="M344.1 228.3L348.9 228.3L346.5 232.5Z" fill="#930d37"/>
<text stroke="#222" stroke-width="0.14" x="352.5" y="233" font-size="7.6" fill="#222" textLength="32.3" lengthAdjust="spacingAndGlyphs">Missense</text>
<rect x="394.5" y="228.2" width="4.6" height="4.6" fill="#930d37" />
<text stroke="#222" stroke-width="0.14" x="401.5" y="233" font-size="7.6" fill="#222" textLength="69.5" lengthAdjust="spacingAndGlyphs">Frameshift deletion</text>
<text stroke="#111" stroke-width="0.25" x="7.2" y="259.4" font-size="10.6" fill="#111" font-weight="bold">D</text>
<rect x="37.99" y="263.6" width="7.37" height="6.4" fill="#0f0cc2" />
<rect x="48.59" y="263.6" width="3.84" height="6.4" fill="#0f0cc2" />
<rect x="55.67" y="263.6" width="39.2" height="6.4" fill="#0f0cc2" />
<rect x="98.1" y="263.6" width="3.84" height="6.4" fill="#0f0cc2" />
<rect x="105.17" y="263.6" width="3.84" height="6.4" fill="#0f0cc2" />
<rect x="112.24" y="263.6" width="56.88" height="6.4" fill="#0f0cc2" />
<rect x="172.35" y="263.6" width="63.95" height="6.4" fill="#0f0cc2" />
<rect x="239.54" y="263.6" width="25.05" height="6.4" fill="#0f0cc2" />
<rect x="267.83" y="263.6" width="21.52" height="6.4" fill="#0f0cc2" />
<rect x="37.99" y="269.6" width="14.44" height="6.4" fill="#0f0cc2" />
<rect x="55.67" y="269.6" width="39.2" height="6.4" fill="#0f0cc2" />
<rect x="98.1" y="269.6" width="3.84" height="6.4" fill="#0f0cc2" />
<rect x="105.17" y="269.6" width="3.84" height="6.4" fill="#0f0cc2" />
<rect x="112.24" y="269.6" width="53.34" height="6.4" fill="#0f0cc2" />
<rect x="172.35" y="269.6" width="63.95" height="6.4" fill="#0f0cc2" />
<rect x="239.54" y="269.6" width="14.44" height="6.4" fill="#0f0cc2" />
<rect x="257.22" y="269.6" width="3.84" height="6.4" fill="#0f0cc2" />
<rect x="267.83" y="269.6" width="21.52" height="6.4" fill="#0f0cc2" />
<rect x="45.06" y="275.6" width="3.84" height="6.4" fill="#0f0cc2" />
<rect x="59.2" y="275.6" width="7.37" height="6.4" fill="#0f0cc2" />
<rect x="76.88" y="275.6" width="3.84" height="6.4" fill="#0f0cc2" />
<rect x="83.95" y="275.6" width="3.84" height="6.4" fill="#0f0cc2" />
<rect x="98.1" y="275.6" width="3.84" height="6.4" fill="#0f0cc2" />
<rect x="112.24" y="275.6" width="3.84" height="6.4" fill="#0f0cc2" />
<rect x="122.85" y="275.6" width="3.84" height="6.4" fill="#0f0cc2" />
<rect x="129.92" y="275.6" width="14.44" height="6.4" fill="#0f0cc2" />
<rect x="147.6" y="275.6" width="3.84" height="6.4" fill="#0f0cc2" />
<rect x="154.67" y="275.6" width="14.44" height="6.4" fill="#0f0cc2" />
<rect x="172.35" y="275.6" width="3.84" height="6.4" fill="#0f0cc2" />
<rect x="179.43" y="275.6" width="3.84" height="6.4" fill="#0f0cc2" />
<rect x="190.03" y="275.6" width="7.37" height="6.4" fill="#0f0cc2" />
<rect x="200.64" y="275.6" width="17.98" height="6.4" fill="#0f0cc2" />
<rect x="221.86" y="275.6" width="3.84" height="6.4" fill="#0f0cc2" />
<rect x="232.47" y="275.6" width="3.84" height="6.4" fill="#0f0cc2" />
<rect x="246.61" y="275.6" width="17.98" height="6.4" fill="#0f0cc2" />
<rect x="271.36" y="275.6" width="10.91" height="6.4" fill="#0f0cc2" />
<text y="268.4" font-size="4.2" text-anchor="middle"><tspan x="36.37" fill="#222">M</tspan><tspan x="39.9" fill="#fff">S</tspan><tspan x="43.44" fill="#fff">P</tspan><tspan x="46.98" fill="#222">A</tspan><tspan x="50.51" fill="#fff">P</tspan><tspan x="54.05" fill="#222">V</tspan><tspan x="57.58" fill="#fff">I</tspan><tspan x="61.12" fill="#fff">P</tspan><tspan x="64.66" fill="#fff">S</tspan><tspan x="68.19" fill="#fff">N</tspan><tspan x="71.73" fill="#fff">T</tspan><tspan x="75.26" fill="#fff">D</tspan><tspan x="78.8" fill="#fff">Y</tspan><tspan x="82.34" fill="#fff">P</tspan><tspan x="85.87" fill="#fff">G</tspan><tspan x="89.41" fill="#fff">P</tspan><tspan x="92.94" fill="#fff">H</tspan><tspan x="96.48" fill="#222">H</tspan><tspan x="100.02" fill="#fff">F</tspan><tspan x="103.55" fill="#222">E</tspan><tspan x="107.09" fill="#fff">V</tspan><tspan x="110.62" fill="#222">T</tspan><tspan x="114.16" fill="#fff">F</tspan><tspan x="117.7" fill="#fff">Q</tspan><tspan x="121.23" fill="#fff">Q</tspan><tspan x="124.77" fill="#fff">S</tspan><tspan x="128.3" fill="#fff">S</tspan><tspan x="131.84" fill="#fff">T</tspan><tspan x="135.38" fill="#fff">A</tspan><tspan x="138.91" fill="#fff">K</tspan><tspan x="142.45" fill="#fff">S</tspan><tspan x="145.98" fill="#fff">A</tspan><tspan x="149.52" fill="#fff">T</tspan><tspan x="153.06" fill="#fff">W</tspan><tspan x="156.59" fill="#fff">T</tspan><tspan x="160.13" fill="#fff">Y</tspan><tspan x="163.66" fill="#fff">S</tspan><tspan x="167.2" fill="#fff">P</tspan><tspan x="170.74" fill="#222">L</tspan><tspan x="174.27" fill="#fff">L</tspan><tspan x="177.81" fill="#fff">K</tspan><tspan x="181.34" fill="#fff">K</tspan><tspan x="184.88" fill="#fff">L</tspan><tspan x="188.42" fill="#fff">Y</tspan><tspan x="191.95" fill="#fff">C</tspan><tspan x="195.49" fill="#fff">Q</tspan><tspan x="199.02" fill="#fff">I</tspan><tspan x="202.56" fill="#fff">A</tspan><tspan x="206.1" fill="#fff">K</tspan><tspan x="209.63" fill="#fff">T</tspan><tspan x="213.17" fill="#fff">C</tspan><tspan x="216.7" fill="#fff">P</tspan><tspan x="220.24" fill="#fff">I</tspan><tspan x="223.78" fill="#fff">Q</tspan><tspan x="227.31" fill="#fff">I</tspan><tspan x="230.85" fill="#fff">K</tspan><tspan x="234.38" fill="#fff">V</tspan><tspan x="237.92" fill="#222">S</tspan><tspan x="241.46" fill="#fff">T</tspan><tspan x="244.99" fill="#fff">P</tspan><tspan x="248.53" fill="#fff">P</tspan><tspan x="252.06" fill="#fff">P</tspan><tspan x="255.6" fill="#fff">P</tspan><tspan x="259.14" fill="#fff">G</tspan><tspan x="262.67" fill="#fff">T</tspan><tspan x="266.21" fill="#222">A</tspan><tspan x="269.74" fill="#fff">I</tspan><tspan x="273.28" fill="#fff">R</tspan><tspan x="276.82" fill="#fff">A</tspan><tspan x="280.35" fill="#fff">M</tspan><tspan x="283.89" fill="#fff">P</tspan><tspan x="287.42" fill="#fff">V</tspan></text>
<text y="274.4" font-size="4.2" text-anchor="middle"><tspan x="36.37" fill="#222">L</tspan><tspan x="39.9" fill="#fff">S</tspan><tspan x="43.44" fill="#fff">P</tspan><tspan x="46.98" fill="#fff">S</tspan><tspan x="50.51" fill="#fff">P</tspan><tspan x="54.05" fill="#222">A</tspan><tspan x="57.58" fill="#fff">I</tspan><tspan x="61.12" fill="#fff">P</tspan><tspan x="64.66" fill="#fff">S</tspan><tspan x="68.19" fill="#fff">N</tspan><tspan x="71.73" fill="#fff">T</tspan><tspan x="75.26" fill="#fff">D</tspan><tspan x="78.8" fill="#fff">Y</tspan><tspan x="82.34" fill="#fff">P</tspan><tspan x="85.87" fill="#fff">G</tspan><tspan x="89.41" fill="#fff">P</tspan><tspan x="92.94" fill="#fff">H</tspan><tspan x="96.48" fill="#222">S</tspan><tspan x="100.02" fill="#fff">F</tspan><tspan x="103.55" fill="#222">D</tspan><tspan x="107.09" fill="#fff">V</tspan><tspan x="110.62" fill="#222">S</tspan><tspan x="114.16" fill="#fff">F</tspan><tspan x="117.7" fill="#fff">Q</tspan><tspan x="121.23" fill="#fff">Q</tspan><tspan x="124.77" fill="#fff">S</tspan><tspan x="128.3" fill="#fff">S</tspan><tspan x="131.84" fill="#fff">T</tspan><tspan x="135.38" fill="#fff">A</tspan><tspan x="138.91" fill="#fff">K</tspan><tspan x="142.45" fill="#fff">S</tspan><tspan x="145.98" fill="#fff">A</tspan><tspan x="149.52" fill="#fff">T</tspan><tspan x="153.06" fill="#fff">W</tspan><tspan x="156.59" fill="#fff">T</tspan><tspan x="160.13" fill="#fff">Y</tspan><tspan x="163.66" fill="#fff">S</tspan><tspan x="167.2" fill="#222">T</tspan><tspan x="170.74" fill="#222">E</tspan><tspan x="174.27" fill="#fff">L</tspan><tspan x="177.81" fill="#fff">K</tspan><tspan x="181.34" fill="#fff">K</tspan><tspan x="184.88" fill="#fff">L</tspan><tspan x="188.42" fill="#fff">Y</tspan><tspan x="191.95" fill="#fff">C</tspan><tspan x="195.49" fill="#fff">Q</tspan><tspan x="199.02" fill="#fff">I</tspan><tspan x="202.56" fill="#fff">A</tspan><tspan x="206.1" fill="#fff">K</tspan><tspan x="209.63" fill="#fff">T</tspan><tspan x="213.17" fill="#fff">C</tspan><tspan x="216.7" fill="#fff">P</tspan><tspan x="220.24" fill="#fff">I</tspan><tspan x="223.78" fill="#fff">Q</tspan><tspan x="227.31" fill="#fff">I</tspan><tspan x="230.85" fill="#fff">K</tspan><tspan x="234.38" fill="#fff">V</tspan><tspan x="237.92" fill="#222">M</tspan><tspan x="241.46" fill="#fff">T</tspan><tspan x="244.99" fill="#fff">P</tspan><tspan x="248.53" fill="#fff">P</tspan><tspan x="252.06" fill="#fff">P</tspan><tspan x="255.6" fill="#222">Q</tspan><tspan x="259.14" fill="#fff">G</tspan><tspan x="262.67" fill="#222">A</tspan><tspan x="266.21" fill="#222">V</tspan><tspan x="269.74" fill="#fff">I</tspan><tspan x="273.28" fill="#fff">R</tspan><tspan x="276.82" fill="#fff">A</tspan><tspan x="280.35" fill="#fff">M</tspan><tspan x="283.89" fill="#fff">P</tspan><tspan x="287.42" fill="#fff">V</tspan></text>
<text y="280.4" font-size="4.2" text-anchor="middle"><tspan x="36.37" fill="#222">W</tspan><tspan x="39.9" fill="#222">P</tspan><tspan x="43.44" fill="#222">L</tspan><tspan x="46.98" fill="#fff">S</tspan><tspan x="50.51" fill="#222">S</tspan><tspan x="54.05" fill="#222">S</tspan><tspan x="57.58" fill="#222">V</tspan><tspan x="61.12" fill="#fff">P</tspan><tspan x="64.66" fill="#fff">S</tspan><tspan x="68.19" fill="#222">Q</tspan><tspan x="71.73" fill="#222">K</tspan><tspan x="75.26" fill="#222">T</tspan><tspan x="78.8" fill="#fff">Y</tspan><tspan x="82.34" fill="#222">Q</tspan><tspan x="85.87" fill="#fff">G</tspan><tspan x="89.41" fill="#222">S</tspan><tspan x="92.94" fill="#222">Y</tspan><tspan x="96.48" fill="#222">G</tspan><tspan x="100.02" fill="#fff">F</tspan><tspan x="103.55" fill="#222">R</tspan><tspan x="107.09" fill="#222">L</tspan><tspan x="110.62" fill="#222">G</tspan><tspan x="114.16" fill="#fff">F</tspan><tspan x="117.7" fill="#222">L</tspan><tspan x="121.23" fill="#222">H</tspan><tspan x="124.77" fill="#fff">S</tspan><tspan x="128.3" fill="#222">G</tspan><tspan x="131.84" fill="#fff">T</tspan><tspan x="135.38" fill="#fff">A</tspan><tspan x="138.91" fill="#fff">K</tspan><tspan x="142.45" fill="#fff">S</tspan><tspan x="145.98" fill="#222">V</tspan><tspan x="149.52" fill="#fff">T</tspan><tspan x="153.06" fill="#222">C</tspan><tspan x="156.59" fill="#fff">T</tspan><tspan x="160.13" fill="#fff">Y</tspan><tspan x="163.66" fill="#fff">S</tspan><tspan x="167.2" fill="#fff">P</tspan><tspan x="170.74" fill="#222">A</tspan><tspan x="174.27" fill="#fff">L</tspan><tspan x="177.81" fill="#222">N</tspan><tspan x="181.34" fill="#fff">K</tspan><tspan x="184.88" fill="#222">M</tspan><tspan x="188.42" fill="#222">F</tspan><tspan x="191.95" fill="#fff">C</tspan><tspan x="195.49" fill="#fff">Q</tspan><tspan x="199.02" fill="#222">L</tspan><tspan x="202.56" fill="#fff">A</tspan><tspan x="206.1" fill="#fff">K</tspan><tspan x="209.63" fill="#fff">T</tspan><tspan x="213.17" fill="#fff">C</tspan><tspan x="216.7" fill="#fff">P</tspan><tspan x="220.24" fill="#222">V</tspan><tspan x="223.78" fill="#fff">Q</tspan><tspan x="227.31" fill="#222">L</tspan><tspan x="230.85" fill="#222">W</tspan><tspan x="234.38" fill="#fff">V</tspan><tspan x="237.92" fill="#222">D</tspan><tspan x="241.46" fill="#222">S</tspan><tspan x="244.99" fill="#222">T</tspan><tspan x="248.53" fill="#fff">P</tspan><tspan x="252.06" fill="#fff">P</tspan><tspan x="255.6" fill="#fff">P</tspan><tspan x="259.14" fill="#fff">G</tspan><tspan x="262.67" fill="#fff">T</tspan><tspan x="266.21" fill="#222">R</tspan><tspan x="269.74" fill="#222">V</tspan><tspan x="273.28" fill="#fff">R</tspan><tspan x="276.82" fill="#fff">A</tspan><tspan x="280.35" fill="#fff">M</tspan><tspan x="283.89" fill="#222">A</tspan><tspan x="287.42" fill="#222">I</tspan></text>
<line x1="36.5" y1="261.4" x2="36.5" y2="263.8" stroke="#111" stroke-width="0.8"/>
<line x1="71.7" y1="261.4" x2="71.7" y2="263.8" stroke="#111" stroke-width="0.8"/>
<line x1="106.9" y1="261.4" x2="106.9" y2="263.8" stroke="#111" stroke-width="0.8"/>
<line x1="142.1" y1="261.4" x2="142.1" y2="263.8" stroke="#111" stroke-width="0.8"/>
<line x1="177.3" y1="261.4" x2="177.3" y2="263.8" stroke="#111" stroke-width="0.8"/>
<line x1="212.5" y1="261.4" x2="212.5" y2="263.8" stroke="#111" stroke-width="0.8"/>
<line x1="247.7" y1="261.4" x2="247.7" y2="263.8" stroke="#111" stroke-width="0.8"/>
<line x1="282.9" y1="261.4" x2="282.9" y2="263.8" stroke="#111" stroke-width="0.8"/>
<text x="18.9" y="269.2" font-size="7.3" fill="#3a3a3a" textLength="12.3" lengthAdjust="spacingAndGlyphs">p73</text>
<text x="18.9" y="275.6" font-size="7.3" fill="#3a3a3a" textLength="12.3" lengthAdjust="spacingAndGlyphs">p63</text>
<text x="18.9" y="282" font-size="7.3" fill="#3a3a3a" textLength="12.3" lengthAdjust="spacingAndGlyphs">p53</text>
<rect x="37.45" y="327.4" width="28.42" height="6.4" fill="#0f0cc2" />
<rect x="69.08" y="327.4" width="35.45" height="6.4" fill="#0f0cc2" />
<rect x="107.75" y="327.4" width="24.91" height="6.4" fill="#0f0cc2" />
<rect x="135.87" y="327.4" width="7.33" height="6.4" fill="#0f0cc2" />
<rect x="146.41" y="327.4" width="31.94" height="6.4" fill="#0f0cc2" />
<rect x="188.59" y="327.4" width="21.39" height="6.4" fill="#0f0cc2" />
<rect x="213.2" y="327.4" width="74.12" height="6.4" fill="#0f0cc2" />
<rect x="37.45" y="333.4" width="67.08" height="6.4" fill="#0f0cc2" />
<rect x="107.75" y="333.4" width="3.81" height="6.4" fill="#0f0cc2" />
<rect x="114.78" y="333.4" width="17.88" height="6.4" fill="#0f0cc2" />
<rect x="135.87" y="333.4" width="42.48" height="6.4" fill="#0f0cc2" />
<rect x="188.59" y="333.4" width="10.84" height="6.4" fill="#0f0cc2" />
<rect x="202.66" y="333.4" width="7.33" height="6.4" fill="#0f0cc2" />
<rect x="213.2" y="333.4" width="21.39" height="6.4" fill="#0f0cc2" />
<rect x="237.81" y="333.4" width="49.51" height="6.4" fill="#0f0cc2" />
<rect x="37.45" y="339.4" width="7.33" height="6.4" fill="#0f0cc2" />
<rect x="55.02" y="339.4" width="3.81" height="6.4" fill="#0f0cc2" />
<rect x="62.05" y="339.4" width="14.36" height="6.4" fill="#0f0cc2" />
<rect x="79.63" y="339.4" width="10.85" height="6.4" fill="#0f0cc2" />
<rect x="93.69" y="339.4" width="7.33" height="6.4" fill="#0f0cc2" />
<rect x="111.26" y="339.4" width="3.82" height="6.4" fill="#0f0cc2" />
<rect x="135.87" y="339.4" width="10.84" height="6.4" fill="#0f0cc2" />
<rect x="149.93" y="339.4" width="28.42" height="6.4" fill="#0f0cc2" />
<rect x="192.11" y="339.4" width="3.82" height="6.4" fill="#0f0cc2" />
<rect x="199.14" y="339.4" width="7.33" height="6.4" fill="#0f0cc2" />
<rect x="213.2" y="339.4" width="3.82" height="6.4" fill="#0f0cc2" />
<rect x="220.23" y="339.4" width="3.82" height="6.4" fill="#0f0cc2" />
<rect x="227.26" y="339.4" width="31.94" height="6.4" fill="#0f0cc2" />
<rect x="262.41" y="339.4" width="7.33" height="6.4" fill="#0f0cc2" />
<rect x="279.99" y="339.4" width="7.33" height="6.4" fill="#0f0cc2" />
<text y="332.2" font-size="4.2" text-anchor="middle"><tspan x="39.36" fill="#fff">Y</tspan><tspan x="42.87" fill="#fff">K</tspan><tspan x="46.39" fill="#fff">K</tspan><tspan x="49.9" fill="#fff">A</tspan><tspan x="53.42" fill="#fff">E</tspan><tspan x="56.93" fill="#fff">H</tspan><tspan x="60.45" fill="#fff">V</tspan><tspan x="63.96" fill="#fff">T</tspan><tspan x="67.48" fill="#222">D</tspan><tspan x="70.99" fill="#fff">V</tspan><tspan x="74.51" fill="#fff">V</tspan><tspan x="78.02" fill="#fff">K</tspan><tspan x="81.54" fill="#fff">R</tspan><tspan x="85.05" fill="#fff">C</tspan><tspan x="88.57" fill="#fff">P</tspan><tspan x="92.08" fill="#fff">N</tspan><tspan x="95.6" fill="#fff">H</tspan><tspan x="99.11" fill="#fff">E</tspan><tspan x="102.63" fill="#fff">L</tspan><tspan x="106.14" fill="#222">G</tspan><tspan x="109.66" fill="#fff">R</tspan><tspan x="113.17" fill="#fff">D</tspan><tspan x="116.69" fill="#fff">F</tspan><tspan x="120.2" fill="#fff">N</tspan><tspan x="123.72" fill="#fff">E</tspan><tspan x="127.23" fill="#fff">G</tspan><tspan x="130.75" fill="#fff">Q</tspan><tspan x="134.26" fill="#222">S</tspan><tspan x="137.78" fill="#fff">A</tspan><tspan x="141.29" fill="#fff">P</tspan><tspan x="144.81" fill="#222">A</tspan><tspan x="148.32" fill="#fff">S</tspan><tspan x="151.84" fill="#fff">H</tspan><tspan x="155.35" fill="#fff">L</tspan><tspan x="158.87" fill="#fff">I</tspan><tspan x="162.38" fill="#fff">R</tspan><tspan x="165.9" fill="#fff">V</tspan><tspan x="169.41" fill="#fff">E</tspan><tspan x="172.93" fill="#fff">G</tspan><tspan x="176.44" fill="#fff">N</tspan><tspan x="179.96" fill="#222">N</tspan><tspan x="183.47" fill="#222">L</tspan><tspan x="186.99" fill="#222">S</tspan><tspan x="190.5" fill="#fff">Q</tspan><tspan x="194.02" fill="#fff">Y</tspan><tspan x="197.53" fill="#fff">V</tspan><tspan x="201.05" fill="#fff">D</tspan><tspan x="204.56" fill="#fff">D</tspan><tspan x="208.08" fill="#fff">P</tspan><tspan x="211.59" fill="#222">V</tspan><tspan x="215.11" fill="#fff">T</tspan><tspan x="218.62" fill="#fff">G</tspan><tspan x="222.14" fill="#fff">R</tspan><tspan x="225.65" fill="#fff">Q</tspan><tspan x="229.17" fill="#fff">S</tspan><tspan x="232.68" fill="#fff">V</tspan><tspan x="236.2" fill="#fff">V</tspan><tspan x="239.71" fill="#fff">V</tspan><tspan x="243.23" fill="#fff">P</tspan><tspan x="246.74" fill="#fff">Y</tspan><tspan x="250.26" fill="#fff">E</tspan><tspan x="253.77" fill="#fff">P</tspan><tspan x="257.29" fill="#fff">P</tspan><tspan x="260.8" fill="#fff">Q</tspan><tspan x="264.32" fill="#fff">V</tspan><tspan x="267.83" fill="#fff">G</tspan><tspan x="271.35" fill="#fff">T</tspan><tspan x="274.86" fill="#fff">E</tspan><tspan x="278.38" fill="#fff">F</tspan><tspan x="281.89" fill="#fff">T</tspan><tspan x="285.41" fill="#fff">T</tspan></text>
<text y="338.2" font-size="4.2" text-anchor="middle"><tspan x="39.36" fill="#fff">Y</tspan><tspan x="42.87" fill="#fff">K</tspan><tspan x="46.39" fill="#fff">K</tspan><tspan x="49.9" fill="#fff">A</tspan><tspan x="53.42" fill="#fff">E</tspan><tspan x="56.93" fill="#fff">H</tspan><tspan x="60.45" fill="#fff">V</tspan><tspan x="63.96" fill="#fff">T</tspan><tspan x="67.48" fill="#fff">E</tspan><tspan x="70.99" fill="#fff">V</tspan><tspan x="74.51" fill="#fff">V</tspan><tspan x="78.02" fill="#fff">K</tspan><tspan x="81.54" fill="#fff">R</tspan><tspan x="85.05" fill="#fff">C</tspan><tspan x="88.57" fill="#fff">P</tspan><tspan x="92.08" fill="#fff">N</tspan><tspan x="95.6" fill="#fff">H</tspan><tspan x="99.11" fill="#fff">E</tspan><tspan x="102.63" fill="#fff">L</tspan><tspan x="106.14" fill="#222">S</tspan><tspan x="109.66" fill="#fff">R</tspan><tspan x="113.17" fill="#222">E</tspan><tspan x="116.69" fill="#fff">F</tspan><tspan x="120.2" fill="#fff">N</tspan><tspan x="123.72" fill="#fff">E</tspan><tspan x="127.23" fill="#fff">G</tspan><tspan x="130.75" fill="#fff">Q</tspan><tspan x="134.26" fill="#222">I</tspan><tspan x="137.78" fill="#fff">A</tspan><tspan x="141.29" fill="#fff">P</tspan><tspan x="144.81" fill="#fff">P</tspan><tspan x="148.32" fill="#fff">S</tspan><tspan x="151.84" fill="#fff">H</tspan><tspan x="155.35" fill="#fff">L</tspan><tspan x="158.87" fill="#fff">I</tspan><tspan x="162.38" fill="#fff">R</tspan><tspan x="165.9" fill="#fff">V</tspan><tspan x="169.41" fill="#fff">E</tspan><tspan x="172.93" fill="#fff">G</tspan><tspan x="176.44" fill="#fff">N</tspan><tspan x="179.96" fill="#222">S</tspan><tspan x="183.47" fill="#222">H</tspan><tspan x="186.99" fill="#222">A</tspan><tspan x="190.5" fill="#fff">Q</tspan><tspan x="194.02" fill="#fff">Y</tspan><tspan x="197.53" fill="#fff">V</tspan><tspan x="201.05" fill="#222">E</tspan><tspan x="204.56" fill="#fff">D</tspan><tspan x="208.08" fill="#fff">P</tspan><tspan x="211.59" fill="#222">I</tspan><tspan x="215.11" fill="#fff">T</tspan><tspan x="218.62" fill="#fff">G</tspan><tspan x="222.14" fill="#fff">R</tspan><tspan x="225.65" fill="#fff">Q</tspan><tspan x="229.17" fill="#fff">S</tspan><tspan x="232.68" fill="#fff">V</tspan><tspan x="236.2" fill="#222">L</tspan><tspan x="239.71" fill="#fff">V</tspan><tspan x="243.23" fill="#fff">P</tspan><tspan x="246.74" fill="#fff">Y</tspan><tspan x="250.26" fill="#fff">E</tspan><tspan x="253.77" fill="#fff">P</tspan><tspan x="257.29" fill="#fff">P</tspan><tspan x="260.8" fill="#fff">Q</tspan><tspan x="264.32" fill="#fff">V</tspan><tspan x="267.83" fill="#fff">G</tspan><tspan x="271.35" fill="#fff">T</tspan><tspan x="274.86" fill="#fff">E</tspan><tspan x="278.38" fill="#fff">F</tspan><tspan x="281.89" fill="#fff">T</tspan><tspan x="285.41" fill="#fff">T</tspan></text>
<text y="344.2" font-size="4.2" text-anchor="middle"><tspan x="39.36" fill="#fff">Y</tspan><tspan x="42.87" fill="#fff">K</tspan><tspan x="46.39" fill="#222">Q</tspan><tspan x="49.9" fill="#222">S</tspan><tspan x="53.42" fill="#222">Q</tspan><tspan x="56.93" fill="#fff">H</tspan><tspan x="60.45" fill="#222">M</tspan><tspan x="63.96" fill="#fff">T</tspan><tspan x="67.48" fill="#fff">E</tspan><tspan x="70.99" fill="#fff">V</tspan><tspan x="74.51" fill="#fff">V</tspan><tspan x="78.02" fill="#222">R</tspan><tspan x="81.54" fill="#fff">R</tspan><tspan x="85.05" fill="#fff">C</tspan><tspan x="88.57" fill="#fff">P</tspan><tspan x="92.08" fill="#222">H</tspan><tspan x="95.6" fill="#fff">H</tspan><tspan x="99.11" fill="#fff">E</tspan><tspan x="102.63" fill="#222">R</tspan><tspan x="106.14" fill="#222">C</tspan><tspan x="109.66" fill="#222">S</tspan><tspan x="113.17" fill="#fff">D</tspan><tspan x="116.69" fill="#222">S</tspan><tspan x="120.2" fill="#222">D</tspan><tspan x="123.72" fill="#222">G</tspan><tspan x="134.26" fill="#222">L</tspan><tspan x="137.78" fill="#fff">A</tspan><tspan x="141.29" fill="#fff">P</tspan><tspan x="144.81" fill="#fff">P</tspan><tspan x="148.32" fill="#222">Q</tspan><tspan x="151.84" fill="#fff">H</tspan><tspan x="155.35" fill="#fff">L</tspan><tspan x="158.87" fill="#fff">I</tspan><tspan x="162.38" fill="#fff">R</tspan><tspan x="165.9" fill="#fff">V</tspan><tspan x="169.41" fill="#fff">E</tspan><tspan x="172.93" fill="#fff">G</tspan><tspan x="176.44" fill="#fff">N</tspan><tspan x="179.96" fill="#222">L</tspan><tspan x="183.47" fill="#222">R</tspan><tspan x="186.99" fill="#222">V</tspan><tspan x="190.5" fill="#222">E</tspan><tspan x="194.02" fill="#fff">Y</tspan><tspan x="197.53" fill="#222">L</tspan><tspan x="201.05" fill="#fff">D</tspan><tspan x="204.56" fill="#fff">D</tspan><tspan x="208.08" fill="#222">R</tspan><tspan x="211.59" fill="#222">N</tspan><tspan x="215.11" fill="#fff">T</tspan><tspan x="218.62" fill="#222">F</tspan><tspan x="222.14" fill="#fff">R</tspan><tspan x="225.65" fill="#222">H</tspan><tspan x="229.17" fill="#fff">S</tspan><tspan x="232.68" fill="#fff">V</tspan><tspan x="236.2" fill="#fff">V</tspan><tspan x="239.71" fill="#fff">V</tspan><tspan x="243.23" fill="#fff">P</tspan><tspan x="246.74" fill="#fff">Y</tspan><tspan x="250.26" fill="#fff">E</tspan><tspan x="253.77" fill="#fff">P</tspan><tspan x="257.29" fill="#fff">P</tspan><tspan x="260.8" fill="#222">E</tspan><tspan x="264.32" fill="#fff">V</tspan><tspan x="267.83" fill="#fff">G</tspan><tspan x="271.35" fill="#222">S</tspan><tspan x="274.86" fill="#222">D</tspan><tspan x="278.38" fill="#222">C</tspan><tspan x="281.89" fill="#fff">T</tspan><tspan x="285.41" fill="#fff">T</tspan></text>
<line x1="67.5" y1="325.2" x2="67.5" y2="327.6" stroke="#111" stroke-width="0.8"/>
<line x1="102.9" y1="325.2" x2="102.9" y2="327.6" stroke="#111" stroke-width="0.8"/>
<line x1="138.3" y1="325.2" x2="138.3" y2="327.6" stroke="#111" stroke-width="0.8"/>
<line x1="173.7" y1="325.2" x2="173.7" y2="327.6" stroke="#111" stroke-width="0.8"/>
<line x1="209.1" y1="325.2" x2="209.1" y2="327.6" stroke="#111" stroke-width="0.8"/>
<line x1="244.5" y1="325.2" x2="244.5" y2="327.6" stroke="#111" stroke-width="0.8"/>
<line x1="279.9" y1="325.2" x2="279.9" y2="327.6" stroke="#111" stroke-width="0.8"/>
<text x="21.5" y="333" font-size="7.3" fill="#3a3a3a" textLength="12.3" lengthAdjust="spacingAndGlyphs">p73</text>
<text x="21.5" y="339.4" font-size="7.3" fill="#3a3a3a" textLength="12.3" lengthAdjust="spacingAndGlyphs">p63</text>
<text x="21.5" y="345.8" font-size="7.3" fill="#3a3a3a" textLength="12.3" lengthAdjust="spacingAndGlyphs">p53</text>
<rect x="35.05" y="397" width="95.77" height="6.4" fill="#0f0cc2" />
<rect x="134.06" y="397" width="42.73" height="6.4" fill="#0f0cc2" />
<rect x="180.03" y="397" width="53.34" height="6.4" fill="#0f0cc2" />
<rect x="240.14" y="397" width="3.84" height="6.4" fill="#0f0cc2" />
<rect x="247.21" y="397" width="7.37" height="6.4" fill="#0f0cc2" />
<rect x="38.59" y="403" width="92.24" height="6.4" fill="#0f0cc2" />
<rect x="134.06" y="403" width="32.12" height="6.4" fill="#0f0cc2" />
<rect x="169.42" y="403" width="7.37" height="6.4" fill="#0f0cc2" />
<rect x="180.03" y="403" width="53.34" height="6.4" fill="#0f0cc2" />
<rect x="240.14" y="403" width="14.44" height="6.4" fill="#0f0cc2" />
<rect x="35.05" y="409" width="3.84" height="6.4" fill="#0f0cc2" />
<rect x="42.12" y="409" width="7.37" height="6.4" fill="#0f0cc2" />
<rect x="52.73" y="409" width="21.52" height="6.4" fill="#0f0cc2" />
<rect x="77.48" y="409" width="32.12" height="6.4" fill="#0f0cc2" />
<rect x="112.84" y="409" width="3.84" height="6.4" fill="#0f0cc2" />
<rect x="119.91" y="409" width="10.91" height="6.4" fill="#0f0cc2" />
<rect x="141.13" y="409" width="3.84" height="6.4" fill="#0f0cc2" />
<rect x="151.74" y="409" width="10.91" height="6.4" fill="#0f0cc2" />
<rect x="165.88" y="409" width="10.91" height="6.4" fill="#0f0cc2" />
<rect x="180.03" y="409" width="3.84" height="6.4" fill="#0f0cc2" />
<rect x="187.1" y="409" width="28.59" height="6.4" fill="#0f0cc2" />
<rect x="225.99" y="409" width="3.84" height="6.4" fill="#0f0cc2" />
<rect x="240.14" y="409" width="7.37" height="6.4" fill="#0f0cc2" />
<text y="401.8" font-size="4.2" text-anchor="middle"><tspan x="36.97" fill="#fff">I</tspan><tspan x="40.5" fill="#fff">L</tspan><tspan x="44.04" fill="#fff">Y</tspan><tspan x="47.58" fill="#fff">N</tspan><tspan x="51.11" fill="#fff">F</tspan><tspan x="54.65" fill="#fff">M</tspan><tspan x="58.18" fill="#fff">C</tspan><tspan x="61.72" fill="#fff">N</tspan><tspan x="65.26" fill="#fff">S</tspan><tspan x="68.79" fill="#fff">S</tspan><tspan x="72.33" fill="#fff">C</tspan><tspan x="75.86" fill="#fff">V</tspan><tspan x="79.4" fill="#fff">G</tspan><tspan x="82.94" fill="#fff">G</tspan><tspan x="86.47" fill="#fff">M</tspan><tspan x="90.01" fill="#fff">N</tspan><tspan x="93.54" fill="#fff">R</tspan><tspan x="97.08" fill="#fff">R</tspan><tspan x="100.62" fill="#fff">P</tspan><tspan x="104.15" fill="#fff">I</tspan><tspan x="107.69" fill="#fff">L</tspan><tspan x="111.22" fill="#fff">I</tspan><tspan x="114.76" fill="#fff">I</tspan><tspan x="118.3" fill="#fff">V</tspan><tspan x="121.83" fill="#fff">T</tspan><tspan x="125.37" fill="#fff">L</tspan><tspan x="128.9" fill="#fff">E</tspan><tspan x="132.44" fill="#222">M</tspan><tspan x="135.98" fill="#fff">R</tspan><tspan x="139.51" fill="#fff">D</tspan><tspan x="143.05" fill="#fff">G</tspan><tspan x="146.58" fill="#fff">Q</tspan><tspan x="150.12" fill="#fff">V</tspan><tspan x="153.66" fill="#fff">L</tspan><tspan x="157.19" fill="#fff">G</tspan><tspan x="160.73" fill="#fff">R</tspan><tspan x="164.26" fill="#fff">R</tspan><tspan x="167.8" fill="#fff">S</tspan><tspan x="171.34" fill="#fff">F</tspan><tspan x="174.87" fill="#fff">E</tspan><tspan x="178.41" fill="#222">G</tspan><tspan x="181.94" fill="#fff">R</tspan><tspan x="185.48" fill="#fff">I</tspan><tspan x="189.02" fill="#fff">C</tspan><tspan x="192.55" fill="#fff">A</tspan><tspan x="196.09" fill="#fff">C</tspan><tspan x="199.62" fill="#fff">P</tspan><tspan x="203.16" fill="#fff">G</tspan><tspan x="206.7" fill="#fff">R</tspan><tspan x="210.23" fill="#fff">D</tspan><tspan x="213.77" fill="#fff">R</tspan><tspan x="217.3" fill="#fff">K</tspan><tspan x="220.84" fill="#fff">A</tspan><tspan x="224.38" fill="#fff">D</tspan><tspan x="227.91" fill="#fff">E</tspan><tspan x="231.45" fill="#fff">D</tspan><tspan x="234.98" fill="#222">H</tspan><tspan x="238.52" fill="#222">Y</tspan><tspan x="242.06" fill="#fff">R</tspan><tspan x="245.59" fill="#222">E</tspan><tspan x="249.13" fill="#fff">Q</tspan><tspan x="252.66" fill="#fff">Q</tspan><tspan x="256.2" fill="#222">A</tspan></text>
<text y="407.8" font-size="4.2" text-anchor="middle"><tspan x="36.97" fill="#222">V</tspan><tspan x="40.5" fill="#fff">L</tspan><tspan x="44.04" fill="#fff">Y</tspan><tspan x="47.58" fill="#fff">N</tspan><tspan x="51.11" fill="#fff">F</tspan><tspan x="54.65" fill="#fff">M</tspan><tspan x="58.18" fill="#fff">C</tspan><tspan x="61.72" fill="#fff">N</tspan><tspan x="65.26" fill="#fff">S</tspan><tspan x="68.79" fill="#fff">S</tspan><tspan x="72.33" fill="#fff">C</tspan><tspan x="75.86" fill="#fff">V</tspan><tspan x="79.4" fill="#fff">G</tspan><tspan x="82.94" fill="#fff">G</tspan><tspan x="86.47" fill="#fff">M</tspan><tspan x="90.01" fill="#fff">N</tspan><tspan x="93.54" fill="#fff">R</tspan><tspan x="97.08" fill="#fff">R</tspan><tspan x="100.62" fill="#fff">P</tspan><tspan x="104.15" fill="#fff">I</tspan><tspan x="107.69" fill="#fff">L</tspan><tspan x="111.22" fill="#fff">I</tspan><tspan x="114.76" fill="#fff">I</tspan><tspan x="118.3" fill="#fff">V</tspan><tspan x="121.83" fill="#fff">T</tspan><tspan x="125.37" fill="#fff">L</tspan><tspan x="128.9" fill="#fff">E</tspan><tspan x="132.44" fill="#222">T</tspan><tspan x="135.98" fill="#fff">R</tspan><tspan x="139.51" fill="#fff">D</tspan><tspan x="143.05" fill="#fff">G</tspan><tspan x="146.58" fill="#fff">Q</tspan><tspan x="150.12" fill="#fff">V</tspan><tspan x="153.66" fill="#fff">L</tspan><tspan x="157.19" fill="#fff">G</tspan><tspan x="160.73" fill="#fff">R</tspan><tspan x="164.26" fill="#fff">R</tspan><tspan x="167.8" fill="#222">C</tspan><tspan x="171.34" fill="#fff">F</tspan><tspan x="174.87" fill="#fff">E</tspan><tspan x="178.41" fill="#222">A</tspan><tspan x="181.94" fill="#fff">R</tspan><tspan x="185.48" fill="#fff">I</tspan><tspan x="189.02" fill="#fff">C</tspan><tspan x="192.55" fill="#fff">A</tspan><tspan x="196.09" fill="#fff">C</tspan><tspan x="199.62" fill="#fff">P</tspan><tspan x="203.16" fill="#fff">G</tspan><tspan x="206.7" fill="#fff">R</tspan><tspan x="210.23" fill="#fff">D</tspan><tspan x="213.77" fill="#fff">R</tspan><tspan x="217.3" fill="#fff">K</tspan><tspan x="220.84" fill="#fff">A</tspan><tspan x="224.38" fill="#fff">D</tspan><tspan x="227.91" fill="#fff">E</tspan><tspan x="231.45" fill="#fff">D</tspan><tspan x="234.98" fill="#222">S</tspan><tspan x="238.52" fill="#222">I</tspan><tspan x="242.06" fill="#fff">R</tspan><tspan x="245.59" fill="#fff">K</tspan><tspan x="249.13" fill="#fff">Q</tspan><tspan x="252.66" fill="#fff">Q</tspan><tspan x="256.2" fill="#222">V</tspan></text>
<text y="413.8" font-size="4.2" text-anchor="middle"><tspan x="36.97" fill="#fff">I</tspan><tspan x="40.5" fill="#222">H</tspan><tspan x="44.04" fill="#fff">Y</tspan><tspan x="47.58" fill="#fff">N</tspan><tspan x="51.11" fill="#222">Y</tspan><tspan x="54.65" fill="#fff">M</tspan><tspan x="58.18" fill="#fff">C</tspan><tspan x="61.72" fill="#fff">N</tspan><tspan x="65.26" fill="#fff">S</tspan><tspan x="68.79" fill="#fff">S</tspan><tspan x="72.33" fill="#fff">C</tspan><tspan x="75.86" fill="#222">M</tspan><tspan x="79.4" fill="#fff">G</tspan><tspan x="82.94" fill="#fff">G</tspan><tspan x="86.47" fill="#fff">M</tspan><tspan x="90.01" fill="#fff">N</tspan><tspan x="93.54" fill="#fff">R</tspan><tspan x="97.08" fill="#fff">R</tspan><tspan x="100.62" fill="#fff">P</tspan><tspan x="104.15" fill="#fff">I</tspan><tspan x="107.69" fill="#fff">L</tspan><tspan x="111.22" fill="#222">T</tspan><tspan x="114.76" fill="#fff">I</tspan><tspan x="118.3" fill="#222">I</tspan><tspan x="121.83" fill="#fff">T</tspan><tspan x="125.37" fill="#fff">L</tspan><tspan x="128.9" fill="#fff">E</tspan><tspan x="132.44" fill="#222">D</tspan><tspan x="135.98" fill="#222">S</tspan><tspan x="139.51" fill="#222">S</tspan><tspan x="143.05" fill="#fff">G</tspan><tspan x="146.58" fill="#222">N</tspan><tspan x="150.12" fill="#222">L</tspan><tspan x="153.66" fill="#fff">L</tspan><tspan x="157.19" fill="#fff">G</tspan><tspan x="160.73" fill="#fff">R</tspan><tspan x="164.26" fill="#222">N</tspan><tspan x="167.8" fill="#fff">S</tspan><tspan x="171.34" fill="#fff">F</tspan><tspan x="174.87" fill="#fff">E</tspan><tspan x="178.41" fill="#222">V</tspan><tspan x="181.94" fill="#fff">R</tspan><tspan x="185.48" fill="#222">V</tspan><tspan x="189.02" fill="#fff">C</tspan><tspan x="192.55" fill="#fff">A</tspan><tspan x="196.09" fill="#fff">C</tspan><tspan x="199.62" fill="#fff">P</tspan><tspan x="203.16" fill="#fff">G</tspan><tspan x="206.7" fill="#fff">R</tspan><tspan x="210.23" fill="#fff">D</tspan><tspan x="213.77" fill="#fff">R</tspan><tspan x="217.3" fill="#222">R</tspan><tspan x="220.84" fill="#222">T</tspan><tspan x="224.38" fill="#222">E</tspan><tspan x="227.91" fill="#fff">E</tspan><tspan x="231.45" fill="#222">E</tspan><tspan x="234.98" fill="#222">N</tspan><tspan x="238.52" fill="#222">L</tspan><tspan x="242.06" fill="#fff">R</tspan><tspan x="245.59" fill="#fff">K</tspan><tspan x="249.13" fill="#222">K</tspan><tspan x="252.66" fill="#222">G</tspan><tspan x="256.2" fill="#222">E</tspan></text>
<line x1="62.4" y1="394.8" x2="62.4" y2="397.2" stroke="#111" stroke-width="0.8"/>
<line x1="97.6" y1="394.8" x2="97.6" y2="397.2" stroke="#111" stroke-width="0.8"/>
<line x1="132.8" y1="394.8" x2="132.8" y2="397.2" stroke="#111" stroke-width="0.8"/>
<line x1="168" y1="394.8" x2="168" y2="397.2" stroke="#111" stroke-width="0.8"/>
<line x1="203.2" y1="394.8" x2="203.2" y2="397.2" stroke="#111" stroke-width="0.8"/>
<line x1="238.4" y1="394.8" x2="238.4" y2="397.2" stroke="#111" stroke-width="0.8"/>
<text x="22.4" y="402.6" font-size="7.3" fill="#3a3a3a" textLength="12.3" lengthAdjust="spacingAndGlyphs">p73</text>
<text x="22.4" y="409" font-size="7.3" fill="#3a3a3a" textLength="12.3" lengthAdjust="spacingAndGlyphs">p63</text>
<text x="22.4" y="415.4" font-size="7.3" fill="#3a3a3a" textLength="12.3" lengthAdjust="spacingAndGlyphs">p53</text>
<line x1="246.7" y1="286.4" x2="276.7" y2="286.4" stroke="#222" stroke-width="1.1"/>
<text stroke="#222" stroke-width="0.14" x="248.2" y="294.1" font-size="7.6" fill="#222" textLength="28.2" lengthAdjust="spacingAndGlyphs">hot spot</text>
<line x1="74.2" y1="349.4" x2="97.7" y2="349.4" stroke="#222" stroke-width="1.1"/>
<text stroke="#222" stroke-width="0.14" x="71.7" y="359.4" font-size="7.6" fill="#222" textLength="28.2" lengthAdjust="spacingAndGlyphs">hot spot</text>
<line x1="147.1" y1="349.4" x2="170.8" y2="349.4" stroke="#222" stroke-width="1.1"/>
<text stroke="#222" stroke-width="0.14" x="145.2" y="359.5" font-size="7.6" fill="#222" textLength="28.2" lengthAdjust="spacingAndGlyphs">hot spot</text>
<line x1="66.2" y1="419" x2="100.9" y2="419" stroke="#222" stroke-width="1.1"/>
<text stroke="#222" stroke-width="0.14" x="69.1" y="427.7" font-size="7.6" fill="#222" textLength="28.2" lengthAdjust="spacingAndGlyphs">hot spot</text>
<line x1="189" y1="419" x2="230.2" y2="419" stroke="#222" stroke-width="1.1"/>
<text stroke="#222" stroke-width="0.14" x="195.6" y="427.7" font-size="7.6" fill="#222" textLength="28.2" lengthAdjust="spacingAndGlyphs">hot spot</text>
<path d="M33.85 255.1L38.45 255.1L36.15 259.5Z" fill="#930d37"/>
<text stroke="#9c2e4c" stroke-width="0.14" x="40.8" y="259.9" font-size="7.5" fill="#9c2e4c" textLength="18.8" lengthAdjust="spacingAndGlyphs">L159F</text>
<path d="M72.5 318L75.3 320.8L72.5 323.6L69.7 320.8Z" fill="#2d2a6e"/>
<text stroke="#38386a" stroke-width="0.14" transform="translate(75.6 318) rotate(-90)" x="0" y="0" font-size="7.3" fill="#38386a" textLength="24.4" lengthAdjust="spacingAndGlyphs">V191M</text>
<path d="M77.6 318L80.4 320.8L77.6 323.6L74.8 320.8Z" fill="#2d2a6e"/>
<text stroke="#38386a" stroke-width="0.14" transform="translate(79.8 316) rotate(-45)" x="0" y="0" font-size="7" fill="#38386a">K192E</text>
<path d="M80.1 318.5L85.1 318.5L82.6 323.1Z" fill="#930d37"/>
<text stroke="#9c2e4c" stroke-width="0.14" transform="translate(88.5 319.3) rotate(-45)" x="0" y="0" font-size="7" fill="#9c2e4c">R243W</text>
<path d="M99.4 318L102.2 320.8L99.4 323.6L96.6 320.8Z" fill="#2d2a6e"/>
<text stroke="#38386a" stroke-width="0.14" transform="translate(103.5 319.9) rotate(-45)" x="0" y="0" font-size="7" fill="#38386a">E198K</text>
<path d="M172.7 318.5L177.7 318.5L175.2 323.1Z" fill="#930d37"/>
<text stroke="#9c2e4c" stroke-width="0.14" transform="translate(175.4 315.5) rotate(-45)" x="0" y="0" font-size="7" fill="#9c2e4c">N270T</text>
<path d="M178 318.5L183 318.5L180.5 323.1Z" fill="#930d37"/>
<text stroke="#9c2e4c" stroke-width="0.14" transform="translate(185 318.6) rotate(-45)" x="0" y="0" font-size="7" fill="#9c2e4c">S271T</text>
<circle cx="62.4" cy="391" r="2.6" fill="#930d37"/>
<text stroke="#9c2e4c" stroke-width="0.14" transform="translate(68.2 388.4) rotate(-45)" x="0" y="0" font-size="7" fill="#9c2e4c">N309fs</text>
<path d="M86.6 387.5L89.4 390.3L86.6 393.1L83.8 390.3Z" fill="#2d2a6e"/>
<text stroke="#38386a" stroke-width="0.14" transform="translate(89.6 387.8) rotate(-45)" x="0" y="0" font-size="7" fill="#38386a">M266I</text>
<path d="M100.1 387.5L102.9 390.3L100.1 393.1L97.3 390.3Z" fill="#2d2a6e"/>
<text stroke="#38386a" stroke-width="0.14" transform="translate(101.4 386.4) rotate(-45)" x="0" y="0" font-size="7" fill="#38386a">P270L</text>
<rect x="161.65" y="389.15" width="4.3" height="4.3" fill="#930d37" />
<text stroke="#9c2e4c" stroke-width="0.14" transform="translate(165.4 387.6) rotate(-45)" x="0" y="0" font-size="7" fill="#9c2e4c">R337X</text>
<path d="M189.4 388.7L194.4 388.7L191.9 393.3Z" fill="#930d37"/>
<text stroke="#9c2e4c" stroke-width="0.14" transform="translate(195 386.3) rotate(-90)" x="0" y="0" font-size="7.2" fill="#9c2e4c">A346D</text>
<path d="M197.1 388.7L202.1 388.7L199.6 393.3Z" fill="#930d37"/>
<text stroke="#9c2e4c" stroke-width="0.14" transform="translate(200.2 386.4) rotate(-45)" x="0" y="0" font-size="7" fill="#9c2e4c">P348L</text>
<path d="M206.3 388.2L209.1 391L206.3 393.8L203.5 391Z" fill="#2d2a6e"/>
<text stroke="#38386a" stroke-width="0.14" transform="translate(212 388) rotate(-45)" x="0" y="0" font-size="7" fill="#38386a">R300C</text>
<path d="M23.5 436.6L26.3 439.4L23.5 442.2L20.7 439.4Z" fill="#2d2a6e"/>
<text stroke="#38386a" stroke-width="0.14" x="29.6" y="441.9" font-size="7.8" fill="#38386a" textLength="48.4" lengthAdjust="spacingAndGlyphs"><tspan font-style="italic">TP73</tspan> missense</text>
<path d="M87.1 437.1L92.3 437.1L89.7 441.7Z" fill="#930d37"/>
<text stroke="#9c2e4c" stroke-width="0.14" x="95.8" y="441.9" font-size="7.8" fill="#9c2e4c" textLength="48.4" lengthAdjust="spacingAndGlyphs"><tspan font-style="italic">TP63</tspan> missense</text>
<rect x="153.1" y="437.1" width="4.6" height="4.6" fill="#930d37" />
<text stroke="#9c2e4c" stroke-width="0.14" x="161.5" y="441.9" font-size="7.8" fill="#9c2e4c" textLength="47.6" lengthAdjust="spacingAndGlyphs"><tspan font-style="italic">TP63</tspan> stopgain</text>
<circle cx="220.5" cy="439.4" r="2.5" fill="#930d37"/>
<text stroke="#9c2e4c" stroke-width="0.14" x="225.8" y="441.9" font-size="7.8" fill="#9c2e4c" textLength="82.7" lengthAdjust="spacingAndGlyphs"><tspan font-style="italic">TP63</tspan> frameshift deletion</text>
<text stroke="#111" stroke-width="0.25" x="312" y="259.3" font-size="10.6" fill="#111" font-weight="bold">E</text>
<line x1="343.6" y1="266.3" x2="343.6" y2="376" stroke="#3a3a3a" stroke-width="1.3"/>
<line x1="343" y1="375.4" x2="509.8" y2="375.4" stroke="#3a3a3a" stroke-width="1.3"/>
<line x1="341" y1="375.4" x2="343.6" y2="375.4" stroke="#3a3a3a" stroke-width="1.1"/>
<text stroke="#222" stroke-width="0.14" x="338" y="378.1" font-size="7.5" fill="#222" text-anchor="end" textLength="4.4" lengthAdjust="spacingAndGlyphs">0</text>
<line x1="341" y1="340" x2="343.6" y2="340" stroke="#3a3a3a" stroke-width="1.1"/>
<text stroke="#222" stroke-width="0.14" x="338" y="342.7" font-size="7.5" fill="#222" text-anchor="end" textLength="8.6" lengthAdjust="spacingAndGlyphs">20</text>
<line x1="341" y1="304.6" x2="343.6" y2="304.6" stroke="#3a3a3a" stroke-width="1.1"/>
<text stroke="#222" stroke-width="0.14" x="338" y="307.3" font-size="7.5" fill="#222" text-anchor="end" textLength="8.6" lengthAdjust="spacingAndGlyphs">40</text>
<line x1="341" y1="269.2" x2="343.6" y2="269.2" stroke="#3a3a3a" stroke-width="1.1"/>
<text stroke="#222" stroke-width="0.14" x="338" y="271.9" font-size="7.5" fill="#222" text-anchor="end" textLength="8.6" lengthAdjust="spacingAndGlyphs">60</text>
<text stroke="#222" stroke-width="0.14" transform="translate(325.3 347.9) rotate(-90)" x="0" y="0" font-size="7.5" fill="#222" textLength="51.6" lengthAdjust="spacingAndGlyphs">% of GFP<tspan font-size="4.8" dy="-2.6">+</tspan><tspan dy="2.6"> cells</tspan></text>
<line x1="346.65" y1="374.7" x2="356.55" y2="374.7" stroke="#4a0a18" stroke-width="1"/>
<line x1="351.6" y1="373.81" x2="351.6" y2="374.34" stroke="#222" stroke-width="0.9"/>
<line x1="348.8" y1="373.81" x2="354.4" y2="373.81" stroke="#222" stroke-width="1"/>
<line x1="351.6" y1="375.4" x2="351.6" y2="378.2" stroke="#3a3a3a" stroke-width="1"/>
<text stroke="#222" stroke-width="0.14" transform="translate(354.3 387.9) rotate(-45)" x="0" y="0" font-size="8.2" fill="#222" text-anchor="end" textLength="25" lengthAdjust="spacingAndGlyphs">Control</text>
<rect x="361.26" y="283.36" width="10.9" height="92.04" fill="#ae0231" stroke="#6a0a20" stroke-width="0.5"/>
<line x1="366.71" y1="282.83" x2="366.71" y2="283.36" stroke="#222" stroke-width="0.9"/>
<line x1="363.91" y1="282.83" x2="369.51" y2="282.83" stroke="#222" stroke-width="1"/>
<line x1="366.71" y1="375.4" x2="366.71" y2="378.2" stroke="#3a3a3a" stroke-width="1"/>
<text stroke="#222" stroke-width="0.14" transform="translate(369.8 387.9) rotate(-45)" x="0" y="0" font-size="8.2" fill="#222" text-anchor="end" textLength="30.8" lengthAdjust="spacingAndGlyphs">WT TP53</text>
<rect x="376.37" y="360.18" width="10.9" height="15.22" fill="#ae0231" stroke="#6a0a20" stroke-width="0.5"/>
<line x1="381.82" y1="359.65" x2="381.82" y2="360.18" stroke="#222" stroke-width="0.9"/>
<line x1="379.02" y1="359.65" x2="384.62" y2="359.65" stroke="#222" stroke-width="1"/>
<line x1="381.82" y1="375.4" x2="381.82" y2="378.2" stroke="#3a3a3a" stroke-width="1"/>
<text stroke="#222" stroke-width="0.14" transform="translate(384.4 387.9) rotate(-45)" x="0" y="0" font-size="8.2" fill="#222" text-anchor="end" textLength="8.9" lengthAdjust="spacingAndGlyphs">WT</text>
<line x1="391.98" y1="374.7" x2="401.88" y2="374.7" stroke="#4a0a18" stroke-width="1"/>
<line x1="396.93" y1="374.51" x2="396.93" y2="374.87" stroke="#222" stroke-width="0.9"/>
<line x1="394.13" y1="374.51" x2="399.73" y2="374.51" stroke="#222" stroke-width="1"/>
<line x1="396.93" y1="375.4" x2="396.93" y2="378.2" stroke="#3a3a3a" stroke-width="1"/>
<text stroke="#222" stroke-width="0.14" transform="translate(400 387.9) rotate(-45)" x="0" y="0" font-size="8.2" fill="#222" text-anchor="end" textLength="22.5" lengthAdjust="spacingAndGlyphs">K192E</text>
<rect x="406.59" y="364.5" width="10.9" height="10.9" fill="#ae0231" stroke="#6a0a20" stroke-width="0.5"/>
<line x1="412.04" y1="362.9" x2="412.04" y2="364.5" stroke="#222" stroke-width="0.9"/>
<line x1="409.24" y1="362.9" x2="414.84" y2="362.9" stroke="#222" stroke-width="1"/>
<line x1="412.04" y1="375.4" x2="412.04" y2="378.2" stroke="#3a3a3a" stroke-width="1"/>
<text stroke="#222" stroke-width="0.14" transform="translate(414.6 387.9) rotate(-45)" x="0" y="0" font-size="8.2" fill="#222" text-anchor="end" textLength="21.2" lengthAdjust="spacingAndGlyphs">P270L</text>
<rect x="421.7" y="357.81" width="10.9" height="17.59" fill="#ae0231" stroke="#6a0a20" stroke-width="0.5"/>
<line x1="427.15" y1="356.21" x2="427.15" y2="357.81" stroke="#222" stroke-width="0.9"/>
<line x1="424.35" y1="356.21" x2="429.95" y2="356.21" stroke="#222" stroke-width="1"/>
<line x1="427.15" y1="375.4" x2="427.15" y2="378.2" stroke="#3a3a3a" stroke-width="1"/>
<text stroke="#222" stroke-width="0.14" transform="translate(431 387.9) rotate(-45)" x="0" y="0" font-size="8.2" fill="#222" text-anchor="end" textLength="19.8" lengthAdjust="spacingAndGlyphs">M266I</text>
<line x1="437.31" y1="374.7" x2="447.21" y2="374.7" stroke="#4a0a18" stroke-width="1"/>
<line x1="442.26" y1="374.96" x2="442.26" y2="375.13" stroke="#222" stroke-width="0.9"/>
<line x1="439.46" y1="374.96" x2="445.06" y2="374.96" stroke="#222" stroke-width="1"/>
<line x1="442.26" y1="375.4" x2="442.26" y2="378.2" stroke="#3a3a3a" stroke-width="1"/>
<text stroke="#222" stroke-width="0.14" transform="translate(448 387.9) rotate(-45)" x="0" y="0" font-size="8.2" fill="#222" text-anchor="end" textLength="23" lengthAdjust="spacingAndGlyphs">R300C</text>
<rect x="451.92" y="284.42" width="10.9" height="90.98" fill="#ae0231" stroke="#6a0a20" stroke-width="0.5"/>
<line x1="457.37" y1="283.71" x2="457.37" y2="284.42" stroke="#222" stroke-width="0.9"/>
<line x1="454.57" y1="283.71" x2="460.17" y2="283.71" stroke="#222" stroke-width="1"/>
<line x1="457.37" y1="375.4" x2="457.37" y2="378.2" stroke="#3a3a3a" stroke-width="1"/>
<text stroke="#222" stroke-width="0.14" transform="translate(463.2 387.9) rotate(-45)" x="0" y="0" font-size="8.2" fill="#222" text-anchor="end" textLength="24.4" lengthAdjust="spacingAndGlyphs">G449fs</text>
<rect x="467.03" y="301.5" width="10.9" height="73.9" fill="#ae0231" stroke="#6a0a20" stroke-width="0.5"/>
<line x1="472.48" y1="296.81" x2="472.48" y2="301.5" stroke="#222" stroke-width="0.9"/>
<line x1="469.68" y1="296.81" x2="475.28" y2="296.81" stroke="#222" stroke-width="1"/>
<line x1="472.48" y1="375.4" x2="472.48" y2="378.2" stroke="#3a3a3a" stroke-width="1"/>
<text stroke="#222" stroke-width="0.14" transform="translate(478 387.9) rotate(-45)" x="0" y="0" font-size="8.2" fill="#222" text-anchor="end" textLength="24.4" lengthAdjust="spacingAndGlyphs">S492fs</text>
<rect x="482.14" y="360.89" width="10.9" height="14.51" fill="#ae0231" stroke="#6a0a20" stroke-width="0.5"/>
<line x1="487.59" y1="360.18" x2="487.59" y2="360.89" stroke="#222" stroke-width="0.9"/>
<line x1="484.79" y1="360.18" x2="490.39" y2="360.18" stroke="#222" stroke-width="1"/>
<line x1="487.59" y1="375.4" x2="487.59" y2="378.2" stroke="#3a3a3a" stroke-width="1"/>
<text stroke="#222" stroke-width="0.14" transform="translate(491.7 387.9) rotate(-45)" x="0" y="0" font-size="8.2" fill="#222" text-anchor="end" textLength="21" lengthAdjust="spacingAndGlyphs">A530D</text>
<rect x="497.25" y="364.25" width="10.9" height="11.15" fill="#ae0231" stroke="#6a0a20" stroke-width="0.5"/>
<line x1="502.7" y1="363.72" x2="502.7" y2="364.25" stroke="#222" stroke-width="0.9"/>
<line x1="499.9" y1="363.72" x2="505.5" y2="363.72" stroke="#222" stroke-width="1"/>
<line x1="502.7" y1="375.4" x2="502.7" y2="378.2" stroke="#3a3a3a" stroke-width="1"/>
<text stroke="#222" stroke-width="0.14" transform="translate(506.1 387.9) rotate(-45)" x="0" y="0" font-size="8.2" fill="#222" text-anchor="end" textLength="20.5" lengthAdjust="spacingAndGlyphs">P534T</text>
<circle cx="394.1" cy="356.6" r="1.0" fill="#222"/>
<circle cx="397.8" cy="356.6" r="1.0" fill="#222"/>
<circle cx="401.5" cy="356.6" r="1.0" fill="#222"/>
<circle cx="438.5" cy="354.5" r="1.0" fill="#222"/>
<circle cx="442.2" cy="354.5" r="1.0" fill="#222"/>
<circle cx="445.9" cy="354.5" r="1.0" fill="#222"/>
<circle cx="453.55" cy="277.8" r="1.0" fill="#222"/>
<circle cx="457.25" cy="277.8" r="1.0" fill="#222"/>
<circle cx="460.95" cy="277.8" r="1.0" fill="#222"/>
<circle cx="468.65" cy="290.6" r="1.0" fill="#222"/>
<circle cx="472.35" cy="290.6" r="1.0" fill="#222"/>
<circle cx="476.05" cy="290.6" r="1.0" fill="#222"/>
<line x1="365.4" y1="409.3" x2="497.8" y2="409.3" stroke="#222" stroke-width="1.1"/>
<text stroke="#222" stroke-width="0.14" x="423" y="417" font-size="7.6" fill="#222" font-style="italic" textLength="16.9" lengthAdjust="spacingAndGlyphs">TP73</text>
</svg>
<div id="fr"></div>
</body></html>
